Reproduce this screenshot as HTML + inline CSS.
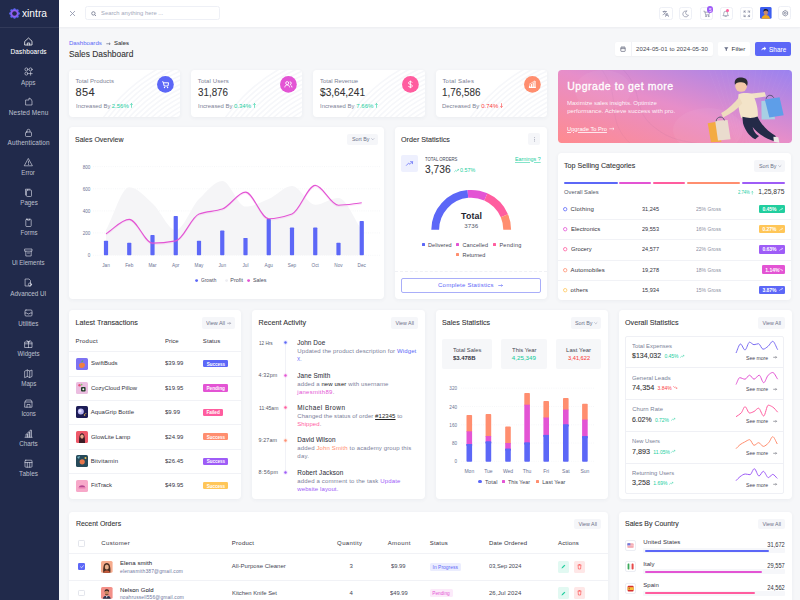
<!DOCTYPE html>
<html><head><meta charset="utf-8"><title>Sales Dashboard</title>
<style>
html,body{margin:0;padding:0;}
body{width:800px;height:600px;overflow:hidden;position:relative;background:#f6f7f9;font-family:"Liberation Sans",sans-serif;}
.t{position:absolute;white-space:nowrap;line-height:1;}
svg{overflow:visible;}
.card{position:absolute;background:#fff;border-radius:3.7px;box-shadow:0 1px 4px rgba(40,50,90,0.055);}
</style></head><body>
<div style="position:absolute;left:0.00px;top:0.00px;width:58.50px;height:600.00px;background:#212a4b;border-radius:0px;"></div>
<div style="position:absolute;left:0.00px;top:27.00px;width:58.50px;height:0.60px;background:rgba(255,255,255,0.08);border-radius:0px;"></div>
<svg style="position:absolute;left:9.00px;top:7.70px;" width="11" height="11" viewBox="0 0 11 11"><circle cx="9.60" cy="5.50" r="1.25" fill="#5a66f4"/><circle cx="8.40" cy="8.40" r="1.25" fill="#5a66f4"/><circle cx="5.50" cy="9.60" r="1.25" fill="#5a66f4"/><circle cx="2.60" cy="8.40" r="1.25" fill="#5a66f4"/><circle cx="1.40" cy="5.50" r="1.25" fill="#5a66f4"/><circle cx="2.60" cy="2.60" r="1.25" fill="#5a66f4"/><circle cx="5.50" cy="1.40" r="1.25" fill="#5a66f4"/><circle cx="8.40" cy="2.60" r="1.25" fill="#5a66f4"/><circle cx="5.5" cy="5.5" r="4.3" fill="#6a62f2"/><circle cx="5.5" cy="5.5" r="3.4" fill="#9b5cf0"/><circle cx="5.5" cy="5.5" r="2.3" fill="#212a4b"/></svg>
<div class="t" style="left:22.00px;top:7.55px;font-size:11.2px;color:#ffffff;transform:scaleX(0.9128);transform-origin:left center;">xintra</div>
<svg style="position:absolute;left:24.00px;top:37.10px;" width="9" height="9" viewBox="0 0 9 9"><g fill="none" stroke="#ffffff" stroke-width="0.75" stroke-linejoin="round" stroke-linecap="round"><path d="M1 4.2 L4.5 1 L8 4.2 V8 H1 Z" /><path d="M3.3 8 V6 H5.7 V8"/></g></svg>
<div class="t" style="left:10.60px;top:48.55px;font-size:6.4px;color:#ffffff;letter-spacing:0.166px;-webkit-text-stroke:0.06px currentColor;">Dashboards</div>
<svg style="position:absolute;left:24.00px;top:67.25px;" width="9" height="9" viewBox="0 0 9 9"><g fill="none" stroke="rgba(232,235,245,0.78)" stroke-width="0.75" stroke-linejoin="round" stroke-linecap="round"><circle cx="2.4" cy="2.4" r="1.5"/><circle cx="6.6" cy="2.4" r="1.5"/><circle cx="2.4" cy="6.6" r="1.5"/><path d="M6.6 5 V8.2 M5 6.6 H8.2"/></g></svg>
<div class="t" style="left:21.31px;top:79.55px;font-size:6.4px;color:rgba(232,235,245,0.78);transform:scaleX(0.9940);transform-origin:center center;">Apps</div>
<svg style="position:absolute;left:24.00px;top:97.40px;" width="9" height="9" viewBox="0 0 9 9"><g fill="none" stroke="rgba(232,235,245,0.78)" stroke-width="0.75" stroke-linejoin="round" stroke-linecap="round"><path d="M2 3 H5 V1 A4 4 0 0 1 8 4 V8 H2 Z"/></g></svg>
<div class="t" style="left:8.85px;top:109.55px;font-size:6.4px;color:rgba(232,235,245,0.78);letter-spacing:0.143px;">Nested Menu</div>
<svg style="position:absolute;left:24.00px;top:127.55px;" width="9" height="9" viewBox="0 0 9 9"><g fill="none" stroke="rgba(232,235,245,0.78)" stroke-width="0.75" stroke-linejoin="round" stroke-linecap="round"><rect x="1.5" y="4" width="6" height="4.5" rx="1"/><path d="M3 4 V2.8 A1.5 1.5 0 0 1 6 2.8 V4"/></g></svg>
<div class="t" style="left:7.60px;top:139.55px;font-size:6.4px;color:rgba(232,235,245,0.78);letter-spacing:0.111px;">Authentication</div>
<svg style="position:absolute;left:24.00px;top:157.70px;" width="9" height="9" viewBox="0 0 9 9"><g fill="none" stroke="rgba(232,235,245,0.78)" stroke-width="0.75" stroke-linejoin="round" stroke-linecap="round"><path d="M4.5 0.8 L8.4 7.8 H0.6 Z"/><path d="M4.5 3.2 V5.2 M4.5 6.3 V6.5"/></g></svg>
<div class="t" style="left:21.49px;top:169.55px;font-size:6.4px;color:rgba(232,235,245,0.78);transform:scaleX(0.9492);transform-origin:center center;">Error</div>
<svg style="position:absolute;left:24.00px;top:187.85px;" width="9" height="9" viewBox="0 0 9 9"><g fill="none" stroke="rgba(232,235,245,0.78)" stroke-width="0.75" stroke-linejoin="round" stroke-linecap="round"><rect x="2.5" y="2" width="5" height="6.5" rx="0.8"/><path d="M1.5 7 V1.2 H6"/></g></svg>
<div class="t" style="left:19.53px;top:199.55px;font-size:6.4px;color:rgba(232,235,245,0.78);transform:scaleX(0.9643);transform-origin:center center;">Pages</div>
<svg style="position:absolute;left:24.00px;top:218.00px;" width="9" height="9" viewBox="0 0 9 9"><g fill="none" stroke="rgba(232,235,245,0.78)" stroke-width="0.75" stroke-linejoin="round" stroke-linecap="round"><rect x="1.8" y="1.2" width="5.4" height="7.3" rx="0.8"/><path d="M3.5 1.2 V2.2 H5.5 V1.2"/></g></svg>
<div class="t" style="left:19.53px;top:229.55px;font-size:6.4px;color:rgba(232,235,245,0.78);transform:scaleX(0.9376);transform-origin:center center;">Forms</div>
<svg style="position:absolute;left:24.00px;top:248.15px;" width="9" height="9" viewBox="0 0 9 9"><g fill="none" stroke="rgba(232,235,245,0.78)" stroke-width="0.75" stroke-linejoin="round" stroke-linecap="round"><rect x="1" y="1" width="7" height="2.2"/><path d="M1.8 3.2 V8 H7.2 V3.2 M3.5 5 H5.5"/></g></svg>
<div class="t" style="left:11.35px;top:259.55px;font-size:6.4px;color:rgba(232,235,245,0.78);transform:scaleX(0.9420);transform-origin:center center;">Ui Elements</div>
<svg style="position:absolute;left:24.00px;top:278.30px;" width="9" height="9" viewBox="0 0 9 9"><g fill="none" stroke="rgba(232,235,245,0.78)" stroke-width="0.75" stroke-linejoin="round" stroke-linecap="round"><path d="M1.5 1 H5 L6.5 2.5 V8 H1.5 Z"/><circle cx="6" cy="6.5" r="1.6"/></g></svg>
<div class="t" style="left:10.28px;top:290.55px;font-size:6.4px;color:rgba(232,235,245,0.78);transform:scaleX(0.9824);transform-origin:center center;">Advanced UI</div>
<svg style="position:absolute;left:24.00px;top:308.45px;" width="9" height="9" viewBox="0 0 9 9"><g fill="none" stroke="rgba(232,235,245,0.78)" stroke-width="0.75" stroke-linejoin="round" stroke-linecap="round"><rect x="1" y="2" width="7" height="6" rx="1"/><path d="M1 5 H3 L4 6 H5 L6 5 H8"/></g></svg>
<div class="t" style="left:18.29px;top:320.55px;font-size:6.4px;color:rgba(232,235,245,0.78);transform:scaleX(0.9697);transform-origin:center center;">Utilities</div>
<svg style="position:absolute;left:24.00px;top:338.60px;" width="9" height="9" viewBox="0 0 9 9"><g fill="none" stroke="rgba(232,235,245,0.78)" stroke-width="0.75" stroke-linejoin="round" stroke-linecap="round"><rect x="1" y="3" width="7" height="5.5"/><path d="M1 4.8 H8 M4.5 3 V8.5 M4.5 3 C3 0.5 1.5 1.5 4.5 3 C7.5 1.5 6 0.5 4.5 3"/></g></svg>
<div class="t" style="left:17.04px;top:350.55px;font-size:6.4px;color:rgba(232,235,245,0.78);transform:scaleX(0.9516);transform-origin:center center;">Widgets</div>
<svg style="position:absolute;left:24.00px;top:368.75px;" width="9" height="9" viewBox="0 0 9 9"><g fill="none" stroke="rgba(232,235,245,0.78)" stroke-width="0.75" stroke-linejoin="round" stroke-linecap="round"><path d="M1 2 L3.3 1 L5.7 2 L8 1 V7.5 L5.7 8.5 L3.3 7.5 L1 8.5 Z M3.3 1 V7.5 M5.7 2 V8.5"/></g></svg>
<div class="t" style="left:20.77px;top:380.55px;font-size:6.4px;color:rgba(232,235,245,0.78);transform:scaleX(0.9585);transform-origin:center center;">Maps</div>
<svg style="position:absolute;left:24.00px;top:398.90px;" width="9" height="9" viewBox="0 0 9 9"><g fill="none" stroke="rgba(232,235,245,0.78)" stroke-width="0.75" stroke-linejoin="round" stroke-linecap="round"><path d="M1 3 L2 1 H7 L8 3 V8.2 H1 Z M1 3 H8 M3 8.2 V5.5 H6 V8.2"/></g></svg>
<div class="t" style="left:20.95px;top:410.55px;font-size:6.4px;color:rgba(232,235,245,0.78);transform:scaleX(0.9479);transform-origin:center center;">Icons</div>
<svg style="position:absolute;left:24.00px;top:429.05px;" width="9" height="9" viewBox="0 0 9 9"><g fill="none" stroke="rgba(232,235,245,0.78)" stroke-width="0.75" stroke-linejoin="round" stroke-linecap="round"><path d="M1 8.3 H8.2 M2 8 V5 H3.5 V8 M4 8 V3 H5.5 V8 M6 8 V1.2 H7.5 V8"/></g></svg>
<div class="t" style="left:19.17px;top:440.55px;font-size:6.4px;color:rgba(232,235,245,0.78);transform:scaleX(0.9814);transform-origin:center center;">Charts</div>
<svg style="position:absolute;left:24.00px;top:459.20px;" width="9" height="9" viewBox="0 0 9 9"><g fill="none" stroke="rgba(232,235,245,0.78)" stroke-width="0.75" stroke-linejoin="round" stroke-linecap="round"><rect x="1" y="1.2" width="7" height="7" rx="0.8"/><path d="M1 3.5 H8 M3.3 3.5 V8.2 M5.7 3.5 V8.2"/></g></svg>
<div class="t" style="left:19.10px;top:470.55px;font-size:6.4px;color:rgba(232,235,245,0.78);letter-spacing:0.100px;">Tables</div>
<div style="position:absolute;left:58.50px;top:0.00px;width:741.50px;height:27.00px;background:#ffffff;border-radius:0px;box-shadow:0 1px 2px rgba(30,40,80,0.05);"></div>
<svg style="position:absolute;left:68.50px;top:9.50px;" width="7" height="7" viewBox="0 0 7 7"><path d="M1 1 L6 6 M6 1 L1 6" stroke="#8a90a8" stroke-width="0.8" fill="none"/></svg>
<div style="position:absolute;left:85.30px;top:6.00px;width:134.40px;height:14.20px;background:#fff;border-radius:2.5px;border:0.6px solid #eef0f6;box-sizing:border-box;"></div>
<svg style="position:absolute;left:90.50px;top:10.50px;" width="5.5" height="5.5" viewBox="0 0 5.5 5.5"><circle cx="2.4" cy="2.4" r="1.7" fill="none" stroke="#6b7189" stroke-width="0.8"/><path d="M3.7 3.7 L5 5" stroke="#6b7189" stroke-width="0.8"/></svg>
<div class="t" style="left:101.00px;top:10.55px;font-size:5.9px;color:#a4a9bb;transform:scaleX(0.9945);transform-origin:left center;">Search anything here ...</div>
<div style="position:absolute;left:659.30px;top:6.50px;width:13.30px;height:13.30px;background:#fff;border-radius:2.5px;border:0.6px solid #eef0f6;box-sizing:border-box;"></div>
<svg style="position:absolute;left:662.20px;top:9.50px;" width="7.5" height="7.5" viewBox="0 0 7.5 7.5"><g fill="none" stroke="#757b94" stroke-width="0.6" stroke-linecap="round" stroke-linejoin="round"><path d="M1 1.5 H4.5 M2.7 1 V1.5 M1.5 1.5 C2 3.5 3 4.2 4.5 4.8 M4 1.5 C3.6 3 2.6 4.2 1 4.8 M3.5 6.5 L5 3 L6.5 6.5 M4 5.4 H6" /></g></svg>
<div style="position:absolute;left:679.20px;top:6.50px;width:13.30px;height:13.30px;background:#fff;border-radius:2.5px;border:0.6px solid #eef0f6;box-sizing:border-box;"></div>
<svg style="position:absolute;left:682.10px;top:9.50px;" width="7.5" height="7.5" viewBox="0 0 7.5 7.5"><g fill="none" stroke="#757b94" stroke-width="0.6" stroke-linecap="round" stroke-linejoin="round"><path d="M4.5 1 A3 3 0 1 0 6.5 5.2 A2.4 2.4 0 0 1 4.5 1 Z"/></g></svg>
<div style="position:absolute;left:699.60px;top:6.50px;width:13.30px;height:13.30px;background:#fff;border-radius:2.5px;border:0.6px solid #eef0f6;box-sizing:border-box;"></div>
<svg style="position:absolute;left:702.50px;top:9.50px;" width="7.5" height="7.5" viewBox="0 0 7.5 7.5"><g fill="none" stroke="#757b94" stroke-width="0.6" stroke-linecap="round" stroke-linejoin="round"><path d="M0.8 1.2 H1.8 L2.6 4.8 H6 L6.6 2.2 H2" /><circle cx="2.9" cy="6.1" r="0.5"/><circle cx="5.6" cy="6.1" r="0.5"/></g></svg>
<div style="position:absolute;left:719.50px;top:6.50px;width:13.30px;height:13.30px;background:#fff;border-radius:2.5px;border:0.6px solid #eef0f6;box-sizing:border-box;"></div>
<svg style="position:absolute;left:722.40px;top:9.50px;" width="7.5" height="7.5" viewBox="0 0 7.5 7.5"><g fill="none" stroke="#757b94" stroke-width="0.6" stroke-linecap="round" stroke-linejoin="round"><path d="M1.2 5.4 C1.8 4.8 1.8 4 1.8 3.2 A1.9 1.9 0 0 1 5.6 3.2 C5.6 4 5.6 4.8 6.2 5.4 Z M3 6.4 H4.4"/></g></svg>
<div style="position:absolute;left:739.70px;top:6.50px;width:13.30px;height:13.30px;background:#fff;border-radius:2.5px;border:0.6px solid #eef0f6;box-sizing:border-box;"></div>
<svg style="position:absolute;left:742.60px;top:9.50px;" width="7.5" height="7.5" viewBox="0 0 7.5 7.5"><g fill="none" stroke="#757b94" stroke-width="0.6" stroke-linecap="round" stroke-linejoin="round"><path d="M1 2.6 V1 H2.6 M5 1 H6.6 V2.6 M6.6 5 V6.6 H5 M2.6 6.6 H1 V5 M1 1 L2.4 2.4 M6.6 1 L5.2 2.4 M6.6 6.6 L5.2 5.2 M1 6.6 L2.4 5.2"/></g></svg>
<div style="position:absolute;left:706.90px;top:6.10px;width:6.60px;height:6.60px;background:#9e5cf7;border-radius:3.3px;"></div>
<div class="t" style="left:708.92px;top:8.55px;font-size:4.6px;color:#fff;">5</div>
<div style="position:absolute;left:726.30px;top:8.60px;width:3.00px;height:3.00px;background:#ff5d9f;border-radius:2px;"></div>
<svg style="position:absolute;left:759.70px;top:7.30px;" width="11.6" height="11.7" viewBox="0 0 11.6 11.7"><rect width="11.6" height="11.7" rx="1.5" fill="#3d5ef0"/><path d="M1.5 11.7 C2 8.8 4 8 5.8 8 C7.6 8 9.6 8.8 10.1 11.7 Z" fill="#f0a81c"/><ellipse cx="5.8" cy="5.6" rx="2.2" ry="2.6" fill="#c98a6a"/><path d="M3.4 5 C3.2 2.5 4.5 2 5.9 2 C7.5 2 8.6 2.8 8.3 5 C7.6 3.6 6.2 3.6 5.4 3.4 C4.6 3.6 3.9 4 3.4 5 Z" fill="#1b1b22"/></svg>
<div style="position:absolute;left:778.30px;top:6.30px;width:13.00px;height:13.70px;background:#fff;border-radius:2.5px;border:0.6px solid #eef0f6;box-sizing:border-box;"></div>
<svg style="position:absolute;left:781.60px;top:9.90px;" width="6.5" height="6.5" viewBox="0 0 6.5 6.5"><g fill="none" stroke="#6b7189" stroke-width="0.7"><path d="M3.25 0.5 L5.6 1.85 V4.65 L3.25 6 L0.9 4.65 V1.85 Z"/><circle cx="3.25" cy="3.25" r="1"/></g></svg>
<div class="t" style="left:68.90px;top:39.55px;font-size:6.1px;color:#5c67f7;letter-spacing:0.012px;">Dashboards</div>
<svg style="position:absolute;left:105.50px;top:41.50px;" width="5" height="3.5" viewBox="0 0 5 3.5"><path d="M0.3 1.75 H4.2 M3 0.6 L4.2 1.75 L3 2.9" stroke="#555a70" stroke-width="0.6" fill="none"/></svg>
<div class="t" style="left:113.80px;top:39.55px;font-size:6.1px;color:#333335;transform:scaleX(0.9830);transform-origin:left center;-webkit-text-stroke:0.06px currentColor;">Sales</div>
<div class="t" style="left:68.90px;top:49.55px;font-size:9.0px;color:#333335;transform:scaleX(0.9313);transform-origin:left center;-webkit-text-stroke:0.09px currentColor;">Sales Dashboard</div>
<div style="position:absolute;left:614.80px;top:42.10px;width:98.50px;height:13.80px;background:#fff;border-radius:2px;box-shadow:0 0.5px 1.5px rgba(0,0,0,0.03);"></div>
<div style="position:absolute;left:630.60px;top:42.10px;width:0.30px;height:13.80px;background:#f1f2f6;border-radius:0px;"></div>
<svg style="position:absolute;left:619.80px;top:45.80px;" width="6" height="6" viewBox="0 0 6 6"><g fill="none" stroke="#555a70" stroke-width="0.65"><rect x="0.8" y="1.2" width="4.4" height="4.2" rx="0.6"/><path d="M0.8 2.6 H5.2 M2 0.5 V1.5 M4 0.5 V1.5"/></g></svg>
<div class="t" style="left:636.10px;top:45.55px;font-size:6.0px;color:#444650;letter-spacing:0.090px;">2024-05-01 to 2024-05-30</div>
<div style="position:absolute;left:718.00px;top:42.10px;width:32.10px;height:13.80px;background:#fff;border-radius:2px;"></div>
<svg style="position:absolute;left:723.80px;top:46.60px;" width="4.6" height="4.2" viewBox="0 0 4.6 4.2"><path d="M0.2 0.3 H4.4 L2.9 2.2 V3.9 L1.7 3.4 V2.2 Z" fill="#6b7189"/></svg>
<div class="t" style="left:731.60px;top:45.55px;font-size:6.2px;color:#333340;letter-spacing:0.004px;">Filter</div>
<div style="position:absolute;left:755.40px;top:42.10px;width:35.80px;height:14.30px;background:#5c67f7;border-radius:2px;"></div>
<svg style="position:absolute;left:761.20px;top:46.30px;" width="5.5" height="5" viewBox="0 0 5.5 5"><path d="M0.4 4.6 C0.6 2.6 1.8 1.8 3.3 1.8 V0.5 L5.2 2.5 L3.3 4.4 V3.2 C2.2 3.1 1.2 3.5 0.4 4.6 Z" fill="#fff"/></svg>
<div class="t" style="left:769.10px;top:46.55px;font-size:6.3px;color:#fff;letter-spacing:0.072px;-webkit-text-stroke:0.06px currentColor;">Share</div>
<div class="card" style="left:68.70px;top:70.00px;width:111.40px;height:46.70px;"></div>
<svg style="position:absolute;left:68.70px;top:70.00px;overflow:hidden;border-radius:3.7px;" width="111.4" height="46.7" viewBox="0 0 111.4 46.7"><g fill="none" stroke="#f6f7fa" stroke-width="1.6"><circle cx="175" cy="150" r="102" /><circle cx="175" cy="150" r="106" /><circle cx="175" cy="150" r="110" /><circle cx="175" cy="150" r="114" /><circle cx="175" cy="150" r="118" /><circle cx="175" cy="150" r="122" /><circle cx="175" cy="150" r="126" /><circle cx="175" cy="150" r="130" /><circle cx="175" cy="150" r="134" /><circle cx="175" cy="150" r="138" /><circle cx="175" cy="150" r="142" /><circle cx="175" cy="150" r="146" /><circle cx="175" cy="150" r="150" /><circle cx="175" cy="150" r="154" /><circle cx="175" cy="150" r="158" /><circle cx="175" cy="150" r="162" /><circle cx="175" cy="150" r="166" /><circle cx="175" cy="150" r="170" /><circle cx="175" cy="150" r="174" /></g></svg>
<div class="t" style="left:75.50px;top:77.55px;font-size:6.0px;color:#7d8296;letter-spacing:0.037px;">Total Products</div>
<div class="t" style="left:75.50px;top:86.55px;font-size:11.0px;color:#333335;letter-spacing:0.373px;-webkit-text-stroke:0.09px currentColor;">854</div>
<div class="t" style="left:75.50px;top:102.55px;font-size:6.0px;color:#7d8296;transform:scaleX(0.9829);transform-origin:left center;">Increased By</div>
<div class="t" style="left:111.72px;top:102.55px;font-size:6.0px;color:#21ce9e;">2.56%</div>
<svg style="position:absolute;left:130.33px;top:102.60px;" width="3" height="5" viewBox="0 0 3 5"><path d="M1.5 4.8 V0.6 M0.3 1.8 L1.5 0.5 L2.7 1.8" stroke="#21ce9e" stroke-width="0.6" fill="none"/></svg>
<svg style="position:absolute;left:157.30px;top:76.40px;" width="16.8" height="16.8" viewBox="0 0 16.8 16.8"><circle cx="8.4" cy="8.4" r="8.4" fill="#5c67f7"/><g transform="translate(8.4 8.4)"><path d="M-3.2 -2.6 H-2.2 L-1.2 1.6 H2.6 L3.2 -1.6 H-1.8" fill="none" stroke="#fff" stroke-width="1"/><circle cx="-0.9" cy="3.1" r="0.7" fill="#fff"/><circle cx="2.2" cy="3.1" r="0.7" fill="#fff"/></g></svg>
<div class="card" style="left:191.00px;top:70.00px;width:111.40px;height:46.70px;"></div>
<svg style="position:absolute;left:191.00px;top:70.00px;overflow:hidden;border-radius:3.7px;" width="111.4" height="46.7" viewBox="0 0 111.4 46.7"><g fill="none" stroke="#f6f7fa" stroke-width="1.6"><circle cx="175" cy="150" r="102" /><circle cx="175" cy="150" r="106" /><circle cx="175" cy="150" r="110" /><circle cx="175" cy="150" r="114" /><circle cx="175" cy="150" r="118" /><circle cx="175" cy="150" r="122" /><circle cx="175" cy="150" r="126" /><circle cx="175" cy="150" r="130" /><circle cx="175" cy="150" r="134" /><circle cx="175" cy="150" r="138" /><circle cx="175" cy="150" r="142" /><circle cx="175" cy="150" r="146" /><circle cx="175" cy="150" r="150" /><circle cx="175" cy="150" r="154" /><circle cx="175" cy="150" r="158" /><circle cx="175" cy="150" r="162" /><circle cx="175" cy="150" r="166" /><circle cx="175" cy="150" r="170" /><circle cx="175" cy="150" r="174" /></g></svg>
<div class="t" style="left:197.80px;top:77.55px;font-size:6.0px;color:#7d8296;letter-spacing:0.099px;">Total Users</div>
<div class="t" style="left:197.80px;top:86.55px;font-size:11.0px;color:#333335;transform:scaleX(0.8917);transform-origin:left center;-webkit-text-stroke:0.09px currentColor;">31,876</div>
<div class="t" style="left:197.80px;top:102.55px;font-size:6.0px;color:#7d8296;transform:scaleX(0.9829);transform-origin:left center;">Increased By</div>
<div class="t" style="left:234.02px;top:102.55px;font-size:6.0px;color:#21ce9e;">0.34%</div>
<svg style="position:absolute;left:252.63px;top:102.60px;" width="3" height="5" viewBox="0 0 3 5"><path d="M1.5 4.8 V0.6 M0.3 1.8 L1.5 0.5 L2.7 1.8" stroke="#21ce9e" stroke-width="0.6" fill="none"/></svg>
<svg style="position:absolute;left:279.60px;top:76.40px;" width="16.8" height="16.8" viewBox="0 0 16.8 16.8"><circle cx="8.4" cy="8.4" r="8.4" fill="#e354d4"/><g transform="translate(8.4 8.4)"><circle cx="-1.2" cy="-1.3" r="1.5" fill="none" stroke="#fff" stroke-width="0.9"/><path d="M-3.6 3 C-3.4 1 -2.4 0.6 -1.2 0.6 C0 0.6 1 1 1.2 3" fill="none" stroke="#fff" stroke-width="0.9"/><path d="M1.3 -2.6 A1.4 1.4 0 0 1 1.6 0.2 M2.2 0.8 C3 1.1 3.5 1.8 3.6 3" fill="none" stroke="#fff" stroke-width="0.9"/></g></svg>
<div class="card" style="left:313.30px;top:70.00px;width:111.40px;height:46.70px;"></div>
<svg style="position:absolute;left:313.30px;top:70.00px;overflow:hidden;border-radius:3.7px;" width="111.4" height="46.7" viewBox="0 0 111.4 46.7"><g fill="none" stroke="#f6f7fa" stroke-width="1.6"><circle cx="175" cy="150" r="102" /><circle cx="175" cy="150" r="106" /><circle cx="175" cy="150" r="110" /><circle cx="175" cy="150" r="114" /><circle cx="175" cy="150" r="118" /><circle cx="175" cy="150" r="122" /><circle cx="175" cy="150" r="126" /><circle cx="175" cy="150" r="130" /><circle cx="175" cy="150" r="134" /><circle cx="175" cy="150" r="138" /><circle cx="175" cy="150" r="142" /><circle cx="175" cy="150" r="146" /><circle cx="175" cy="150" r="150" /><circle cx="175" cy="150" r="154" /><circle cx="175" cy="150" r="158" /><circle cx="175" cy="150" r="162" /><circle cx="175" cy="150" r="166" /><circle cx="175" cy="150" r="170" /><circle cx="175" cy="150" r="174" /></g></svg>
<div class="t" style="left:320.10px;top:77.55px;font-size:6.0px;color:#7d8296;transform:scaleX(0.9907);transform-origin:left center;">Total Revenue</div>
<div class="t" style="left:320.10px;top:86.55px;font-size:11.0px;color:#333335;transform:scaleX(0.9196);transform-origin:left center;-webkit-text-stroke:0.09px currentColor;">$3,64,241</div>
<div class="t" style="left:320.10px;top:102.55px;font-size:6.0px;color:#7d8296;transform:scaleX(0.9829);transform-origin:left center;">Increased By</div>
<div class="t" style="left:356.32px;top:102.55px;font-size:6.0px;color:#21ce9e;">7.66%</div>
<svg style="position:absolute;left:374.93px;top:102.60px;" width="3" height="5" viewBox="0 0 3 5"><path d="M1.5 4.8 V0.6 M0.3 1.8 L1.5 0.5 L2.7 1.8" stroke="#21ce9e" stroke-width="0.6" fill="none"/></svg>
<svg style="position:absolute;left:401.90px;top:76.40px;" width="16.8" height="16.8" viewBox="0 0 16.8 16.8"><circle cx="8.4" cy="8.4" r="8.4" fill="#ff5d9f"/><g transform="translate(8.4 8.4)"><path d="M1.8 -1.8 C1.5 -2.6 0.8 -2.8 0 -2.8 C-1.2 -2.8 -1.9 -2.2 -1.9 -1.4 C-1.9 0.4 2 -0.3 2 1.5 C2 2.3 1.2 2.8 0 2.8 C-1 2.8 -1.7 2.4 -2 1.6 M0 -3.8 V3.8" fill="none" stroke="#fff" stroke-width="0.9"/></g></svg>
<div class="card" style="left:435.60px;top:70.00px;width:111.40px;height:46.70px;"></div>
<svg style="position:absolute;left:435.60px;top:70.00px;overflow:hidden;border-radius:3.7px;" width="111.4" height="46.7" viewBox="0 0 111.4 46.7"><g fill="none" stroke="#f6f7fa" stroke-width="1.6"><circle cx="175" cy="150" r="102" /><circle cx="175" cy="150" r="106" /><circle cx="175" cy="150" r="110" /><circle cx="175" cy="150" r="114" /><circle cx="175" cy="150" r="118" /><circle cx="175" cy="150" r="122" /><circle cx="175" cy="150" r="126" /><circle cx="175" cy="150" r="130" /><circle cx="175" cy="150" r="134" /><circle cx="175" cy="150" r="138" /><circle cx="175" cy="150" r="142" /><circle cx="175" cy="150" r="146" /><circle cx="175" cy="150" r="150" /><circle cx="175" cy="150" r="154" /><circle cx="175" cy="150" r="158" /><circle cx="175" cy="150" r="162" /><circle cx="175" cy="150" r="166" /><circle cx="175" cy="150" r="170" /><circle cx="175" cy="150" r="174" /></g></svg>
<div class="t" style="left:442.40px;top:77.55px;font-size:6.0px;color:#7d8296;letter-spacing:0.215px;">Total Sales</div>
<div class="t" style="left:442.40px;top:86.55px;font-size:11.0px;color:#333335;transform:scaleX(0.8991);transform-origin:left center;-webkit-text-stroke:0.09px currentColor;">1,76,586</div>
<div class="t" style="left:442.40px;top:102.55px;font-size:6.0px;color:#7d8296;transform:scaleX(0.9841);transform-origin:left center;">Decreased By</div>
<div class="t" style="left:481.28px;top:102.55px;font-size:6.0px;color:#fb4242;">0.74%</div>
<svg style="position:absolute;left:499.90px;top:102.80px;" width="3" height="5" viewBox="0 0 3 5"><path d="M1.5 0.2 V4.4 M0.3 3.2 L1.5 4.5 L2.7 3.2" stroke="#fb4242" stroke-width="0.6" fill="none"/></svg>
<svg style="position:absolute;left:524.20px;top:76.40px;" width="16.8" height="16.8" viewBox="0 0 16.8 16.8"><circle cx="8.4" cy="8.4" r="8.4" fill="#ff8e6f"/><g transform="translate(8.4 8.4)"><path d="M-3.5 3 H3.5 M-2.8 2.6 V1 M-1 2.6 V-0.5 M0.8 2.6 V-2 M2.6 2.6 V-3.3" fill="none" stroke="#fff" stroke-width="1.1"/><path d="M-3.3 0 L2.5 -3.6" stroke="#fff" stroke-width="0.6"/></g></svg>
<svg style="position:absolute;left:557.90px;top:70.00px;" width="234" height="73" viewBox="0 0 234 73"><defs><linearGradient id="bg1" x1="0" y1="1" x2="1" y2="0"><stop offset="0" stop-color="#ff8b8f"/><stop offset="0.5" stop-color="#e78ec9"/><stop offset="1" stop-color="#9a82f0"/></linearGradient><clipPath id="bcl"><rect width="234" height="73" rx="3.7"/></clipPath></defs><g clip-path="url(#bcl)"><rect width="234" height="73" fill="url(#bg1)"/><path d="M60 -5 C90 20 70 40 100 60 C120 75 140 70 160 80" fill="none" stroke="rgba(120,80,140,0.10)" stroke-width="0.7"/><path d="M40 -5 C70 30 40 50 80 80" fill="none" stroke="rgba(120,80,140,0.08)" stroke-width="0.7"/><ellipse cx="45" cy="20" rx="28" ry="20" fill="rgba(255,255,255,0.05)"/><ellipse cx="150" cy="60" rx="35" ry="22" fill="rgba(255,255,255,0.05)"/><line x1="180.0" y1="75" x2="150.0" y2="-2" stroke="rgba(255,255,255,0.07)" stroke-width="0.5"/><line x1="181.2" y1="75" x2="156.0" y2="-2" stroke="rgba(255,255,255,0.07)" stroke-width="0.5"/><line x1="182.4" y1="75" x2="162.0" y2="-2" stroke="rgba(255,255,255,0.07)" stroke-width="0.5"/><line x1="183.6" y1="75" x2="168.0" y2="-2" stroke="rgba(255,255,255,0.07)" stroke-width="0.5"/><line x1="184.8" y1="75" x2="174.0" y2="-2" stroke="rgba(255,255,255,0.07)" stroke-width="0.5"/><line x1="186.0" y1="75" x2="180.0" y2="-2" stroke="rgba(255,255,255,0.07)" stroke-width="0.5"/><line x1="187.2" y1="75" x2="186.0" y2="-2" stroke="rgba(255,255,255,0.07)" stroke-width="0.5"/><line x1="188.4" y1="75" x2="192.0" y2="-2" stroke="rgba(255,255,255,0.07)" stroke-width="0.5"/><line x1="189.6" y1="75" x2="198.0" y2="-2" stroke="rgba(255,255,255,0.07)" stroke-width="0.5"/><line x1="190.8" y1="75" x2="204.0" y2="-2" stroke="rgba(255,255,255,0.07)" stroke-width="0.5"/><line x1="192.0" y1="75" x2="210.0" y2="-2" stroke="rgba(255,255,255,0.07)" stroke-width="0.5"/><line x1="193.2" y1="75" x2="216.0" y2="-2" stroke="rgba(255,255,255,0.07)" stroke-width="0.5"/><line x1="194.4" y1="75" x2="222.0" y2="-2" stroke="rgba(255,255,255,0.07)" stroke-width="0.5"/><line x1="195.6" y1="75" x2="228.0" y2="-2" stroke="rgba(255,255,255,0.07)" stroke-width="0.5"/><line x1="196.8" y1="75" x2="234.0" y2="-2" stroke="rgba(255,255,255,0.07)" stroke-width="0.5"/><line x1="198.0" y1="75" x2="240.0" y2="-2" stroke="rgba(255,255,255,0.07)" stroke-width="0.5"/></g></svg>
<div class="t" style="left:567.20px;top:80.55px;font-size:10.5px;color:#fff;letter-spacing:0.539px;-webkit-text-stroke:0.3px #fff;">Upgrade to get more</div>
<div class="t" style="left:567.20px;top:99.55px;font-size:6.1px;color:rgba(255,255,255,0.92);transform:scaleX(0.9833);transform-origin:left center;">Maximize sales insights. Optimize</div>
<div class="t" style="left:567.20px;top:107.55px;font-size:6.1px;color:rgba(255,255,255,0.92);letter-spacing:0.014px;">performance. Achieve success with pro.</div>
<div class="t" style="left:567.20px;top:125.55px;font-size:6.1px;color:#fff;transform:scaleX(0.9387);transform-origin:left center;text-decoration:underline;text-underline-offset:1px;text-decoration-thickness:0.6px;text-decoration-color:rgba(255,255,255,0.8);">Upgrade To Pro</div>
<svg style="position:absolute;left:608.60px;top:127.30px;" width="6" height="3.5" viewBox="0 0 6 3.5"><path d="M0.3 1.75 H5 M3.8 0.6 L5 1.75 L3.8 2.9" stroke="#fff" stroke-width="0.6" fill="none"/></svg>
<svg style="position:absolute;left:700.00px;top:68.00px;" width="95" height="77" viewBox="0 0 740 600"><path d="M478 258 L560 250 L585 400 L480 402 Z" fill="#a8cfe4"/><path d="M505 245 L620 228 L652 368 L540 385 Z" fill="#5e9ee8"/><path d="M515 240 C525 205 560 205 575 232" fill="none" stroke="#4a4e6a" stroke-width="7"/><path d="M345 205 C400 200 450 190 505 188 L515 222 C455 228 405 240 355 250 Z" fill="#f1e1c6"/><path d="M300 205 C330 190 380 192 410 205 C440 260 455 330 450 385 C400 398 350 398 320 388 C300 330 290 270 300 205 Z" fill="#f3e4c9"/><path d="M305 225 C270 270 220 320 165 350 L180 385 C240 360 290 320 330 275 Z" fill="#eedcbe"/><path d="M330 380 C370 392 420 392 448 378 C470 430 520 490 590 530 L578 570 C500 548 440 500 410 460 C420 500 440 520 460 530 L430 555 C380 530 350 480 335 430 Z" fill="#242a48"/><path d="M572 535 L610 540 L618 582 L575 575 Z" fill="#eceae6"/><circle cx="320" cy="140" r="46" fill="#f2c7a8"/><path d="M272 130 C262 80 300 70 335 75 C370 80 378 110 366 140 C355 115 335 108 310 112 C290 114 280 122 272 130 Z" fill="#2b2b30"/><path d="M60 430 L130 418 L168 575 L85 578 Z" fill="#f3ab42"/><path d="M118 412 L215 405 L238 555 L140 565 Z" fill="#eadcce"/><path d="M125 415 C130 375 180 370 190 408" fill="none" stroke="#4a4e6a" stroke-width="7"/></svg>
<div class="card" style="left:68.70px;top:126.80px;width:315.30px;height:172.60px;"></div>
<div class="t" style="left:75.40px;top:135.55px;font-size:7.2px;color:#333335;transform:scaleX(0.9717);transform-origin:left center;-webkit-text-stroke:0.09px currentColor;">Sales Overview</div>
<div style="position:absolute;left:346.90px;top:133.70px;width:30.70px;height:11.30px;background:#f5f6f9;border-radius:2px;"></div>
<div class="t" style="left:351.50px;top:136.55px;font-size:5.6px;color:#6c7088;transform:scaleX(0.9531);transform-origin:left center;">Sort By</div>
<svg style="position:absolute;left:370.80px;top:138.40px;" width="3.6" height="2.2" viewBox="0 0 3.6 2.2"><path d="M0.3 0.3 L1.8 1.8 L3.3 0.3" fill="none" stroke="#8a8fa5" stroke-width="0.5"/></svg>
<div class="t" style="left:82.73px;top:165.55px;font-size:4.6px;color:#6b7394;">800</div>
<div class="t" style="left:82.73px;top:187.55px;font-size:4.6px;color:#6b7394;">600</div>
<div class="t" style="left:82.73px;top:209.55px;font-size:4.6px;color:#6b7394;">400</div>
<div class="t" style="left:82.73px;top:231.55px;font-size:4.6px;color:#6b7394;">200</div>
<div class="t" style="left:87.84px;top:253.55px;font-size:4.6px;color:#6b7394;">0</div>
<svg style="position:absolute;left:0.00px;top:0.00px;pointer-events:none;" width="800" height="600" viewBox="0 0 800 600"><line x1="93" y1="166.6" x2="380" y2="166.6" stroke="#eceef3" stroke-width="0.5" stroke-dasharray="1 1.2"/><line x1="93" y1="188.75" x2="380" y2="188.75" stroke="#eceef3" stroke-width="0.5" stroke-dasharray="1 1.2"/><line x1="93" y1="210.9" x2="380" y2="210.9" stroke="#eceef3" stroke-width="0.5" stroke-dasharray="1 1.2"/><line x1="93" y1="232.9" x2="380" y2="232.9" stroke="#eceef3" stroke-width="0.5" stroke-dasharray="1 1.2"/><line x1="93" y1="255.3" x2="380" y2="255.3" stroke="#eceef3" stroke-width="0.5" stroke-dasharray="1 1.2"/><path d="M106.00 230.00 C113.75 215.77 121.50 187.30 129.25 187.30 C137.00 187.30 144.75 196.71 152.50 203.40 C160.25 210.09 168.00 230.00 175.75 230.00 C183.50 230.00 191.25 206.62 199.00 199.00 C206.75 191.38 214.50 180.90 222.25 180.90 C230.00 180.90 237.75 206.60 245.50 206.60 C253.25 206.60 261.00 202.20 268.75 199.00 C276.50 195.80 284.25 186.00 292.00 186.00 C299.75 186.00 307.50 204.70 315.25 204.70 C323.00 204.70 330.75 198.00 338.50 198.00 C346.25 198.00 354.00 219.33 361.75 230.00 L361.75 255.3 L106.00 255.3 Z" fill="#f5f5f7"/><rect x="103.90" y="240.70" width="4.2" height="14.60" rx="0.7" fill="#5c67f7"/><rect x="127.15" y="242.75" width="4.2" height="12.55" rx="0.7" fill="#5c67f7"/><rect x="150.40" y="235.10" width="4.2" height="20.20" rx="0.7" fill="#5c67f7"/><rect x="173.65" y="216.00" width="4.2" height="39.30" rx="0.7" fill="#5c67f7"/><rect x="196.90" y="240.70" width="4.2" height="14.60" rx="0.7" fill="#5c67f7"/><rect x="220.15" y="230.60" width="4.2" height="24.70" rx="0.7" fill="#5c67f7"/><rect x="243.40" y="237.90" width="4.2" height="17.40" rx="0.7" fill="#5c67f7"/><rect x="266.65" y="219.10" width="4.2" height="36.20" rx="0.7" fill="#5c67f7"/><rect x="289.90" y="227.60" width="4.2" height="27.70" rx="0.7" fill="#5c67f7"/><rect x="313.15" y="227.60" width="4.2" height="27.70" rx="0.7" fill="#5c67f7"/><rect x="336.40" y="242.75" width="4.2" height="12.55" rx="0.7" fill="#5c67f7"/><rect x="359.65" y="221.00" width="4.2" height="34.30" rx="0.7" fill="#5c67f7"/><path d="M106.00 233.75 C113.75 228.93 121.50 219.30 129.25 219.30 C137.00 219.30 144.75 243.10 152.50 243.10 C160.25 243.10 168.00 242.26 175.75 240.90 C183.50 239.54 191.25 216.81 199.00 214.00 C206.75 211.19 214.50 211.57 222.25 209.00 C230.00 206.43 237.75 192.10 245.50 192.10 C253.25 192.10 261.00 218.75 268.75 218.75 C276.50 218.75 284.25 216.72 292.00 214.00 C299.75 211.28 307.50 185.40 315.25 185.40 C323.00 185.40 330.75 205.25 338.50 205.25 C346.25 205.25 354.00 203.62 361.75 202.80" transform="translate(0 1.2)" fill="none" stroke="rgba(227,84,212,0.12)" stroke-width="1.2"/><path d="M106.00 233.75 C113.75 228.93 121.50 219.30 129.25 219.30 C137.00 219.30 144.75 243.10 152.50 243.10 C160.25 243.10 168.00 242.26 175.75 240.90 C183.50 239.54 191.25 216.81 199.00 214.00 C206.75 211.19 214.50 211.57 222.25 209.00 C230.00 206.43 237.75 192.10 245.50 192.10 C253.25 192.10 261.00 218.75 268.75 218.75 C276.50 218.75 284.25 216.72 292.00 214.00 C299.75 211.28 307.50 185.40 315.25 185.40 C323.00 185.40 330.75 205.25 338.50 205.25 C346.25 205.25 354.00 203.62 361.75 202.80" fill="none" stroke="#e354d4" stroke-width="1.15"/></svg>
<div class="t" style="left:102.21px;top:263.55px;font-size:4.7px;color:#6b7394;">Jan</div>
<div class="t" style="left:125.20px;top:263.55px;font-size:4.7px;color:#6b7394;">Feb</div>
<div class="t" style="left:148.45px;top:263.55px;font-size:4.7px;color:#6b7394;">Mar</div>
<div class="t" style="left:172.09px;top:263.55px;font-size:4.7px;color:#6b7394;">Apr</div>
<div class="t" style="left:194.56px;top:263.55px;font-size:4.7px;color:#6b7394;">May</div>
<div class="t" style="left:218.46px;top:263.55px;font-size:4.7px;color:#6b7394;">Jun</div>
<div class="t" style="left:242.50px;top:263.55px;font-size:4.7px;color:#6b7394;">Jul</div>
<div class="t" style="left:264.57px;top:263.55px;font-size:4.7px;color:#6b7394;">Agu</div>
<div class="t" style="left:287.82px;top:263.55px;font-size:4.7px;color:#6b7394;">Sep</div>
<div class="t" style="left:311.59px;top:263.55px;font-size:4.7px;color:#6b7394;">Oct</div>
<div class="t" style="left:334.32px;top:263.55px;font-size:4.7px;color:#6b7394;">Nov</div>
<div class="t" style="left:357.57px;top:263.55px;font-size:4.7px;color:#6b7394;">Dec</div>
<svg style="position:absolute;left:194.60px;top:278.90px;" width="3.2" height="3.2" viewBox="0 0 3.2 3.2"><circle cx="1.6" cy="1.6" r="1.45" fill="#5c67f7"/></svg>
<div class="t" style="left:200.80px;top:277.55px;font-size:5.4px;color:#4a4d5e;transform:scaleX(0.8791);transform-origin:left center;">Growth</div>
<svg style="position:absolute;left:224.70px;top:278.90px;" width="3.2" height="3.2" viewBox="0 0 3.2 3.2"><circle cx="1.6" cy="1.6" r="1.45" fill="#eeeef2"/></svg>
<div class="t" style="left:230.30px;top:277.55px;font-size:5.4px;color:#4a4d5e;letter-spacing:0.039px;">Profit</div>
<svg style="position:absolute;left:246.70px;top:278.90px;" width="3.2" height="3.2" viewBox="0 0 3.2 3.2"><circle cx="1.6" cy="1.6" r="1.45" fill="#e354d4"/></svg>
<div class="t" style="left:252.80px;top:277.55px;font-size:5.4px;color:#4a4d5e;transform:scaleX(0.9994);transform-origin:left center;">Sales</div>
<div class="card" style="left:395.00px;top:126.80px;width:152.00px;height:172.60px;"></div>
<div class="t" style="left:401.10px;top:135.55px;font-size:7.2px;color:#333335;transform:scaleX(0.9957);transform-origin:left center;-webkit-text-stroke:0.09px currentColor;">Order Statistics</div>
<div style="position:absolute;left:528.00px;top:133.40px;width:12.30px;height:11.60px;background:#f5f6f9;border-radius:2px;"></div>
<svg style="position:absolute;left:533.60px;top:137.00px;" width="1.2" height="5" viewBox="0 0 1.2 5"><circle cx="0.6" cy="0.6" r="0.45" fill="#6b7189"/><circle cx="0.6" cy="2.3" r="0.45" fill="#6b7189"/><circle cx="0.6" cy="4" r="0.45" fill="#6b7189"/></svg>
<div style="position:absolute;left:401.10px;top:155.00px;width:16.70px;height:17.00px;background:#eef0fe;border-radius:2px;"></div>
<svg style="position:absolute;left:405.80px;top:160.60px;" width="7" height="5" viewBox="0 0 7 5"><path d="M0.4 4.4 L2.6 2.1 L4 3.3 L6.4 0.8 M4.4 0.7 H6.5 V2.7" fill="none" stroke="#5c67f7" stroke-width="0.7" stroke-linecap="round" stroke-linejoin="round"/></svg>
<div class="t" style="left:425.00px;top:157.55px;font-size:4.7px;color:#444654;transform:scaleX(0.9040);transform-origin:left center;">TOTAL ORDERS</div>
<div class="t" style="left:425.00px;top:163.55px;font-size:11.2px;color:#333335;transform:scaleX(0.9134);transform-origin:left center;-webkit-text-stroke:0.09px currentColor;">3,736</div>
<svg style="position:absolute;left:454.20px;top:168.60px;" width="5" height="3.2" viewBox="0 0 5 3.2"><path d="M0.3 2.9 L1.8 1.4 L2.7 2.2 L4.6 0.4 M3.5 0.4 H4.6 V1.4" fill="none" stroke="#21ce9e" stroke-width="0.55"/></svg>
<div class="t" style="left:460.20px;top:167.55px;font-size:5.4px;color:#21ce9e;transform:scaleX(0.9927);transform-origin:left center;">0.57%</div>
<div class="t" style="left:515.00px;top:156.55px;font-size:5.6px;color:#21ce9e;transform:scaleX(0.9599);transform-origin:left center;text-decoration:underline;text-underline-offset:0.8px;text-decoration-thickness:0.5px;text-decoration-color:rgba(33,206,158,0.55);">Earnings ?</div>
<svg style="position:absolute;left:0.00px;top:0.00px;pointer-events:none;" width="800" height="600" viewBox="0 0 800 600"><path d="M435.20 229.80 A36.0 36.0 0 0 1 467.87 193.95" fill="none" stroke="#5c67f7" stroke-width="7.8"/><path d="M467.87 193.95 A36.0 36.0 0 0 1 485.84 196.91" fill="none" stroke="#e354d4" stroke-width="7.8"/><path d="M485.84 196.91 A36.0 36.0 0 0 1 504.39 215.85" fill="none" stroke="#ff5d9f" stroke-width="7.8"/><path d="M504.39 215.85 A36.0 36.0 0 0 1 507.20 229.80" fill="none" stroke="#ff8e6f" stroke-width="7.8"/></svg>
<div class="t" style="left:461.00px;top:211.55px;font-size:8.8px;color:#222330;letter-spacing:0.158px;font-weight:700;">Total</div>
<div class="t" style="left:464.30px;top:222.55px;font-size:6.2px;color:#555868;letter-spacing:0.002px;">3736</div>
<div style="position:absolute;left:421.50px;top:243.10px;width:3.20px;height:3.20px;background:#5c67f7;border-radius:0.6px;"></div>
<div class="t" style="left:428.10px;top:242.55px;font-size:5.5px;color:#444654;letter-spacing:0.033px;">Delivered</div>
<div style="position:absolute;left:455.90px;top:243.10px;width:3.20px;height:3.20px;background:#e354d4;border-radius:0.6px;"></div>
<div class="t" style="left:462.50px;top:242.55px;font-size:5.5px;color:#444654;letter-spacing:0.142px;">Cancelled</div>
<div style="position:absolute;left:492.80px;top:243.10px;width:3.20px;height:3.20px;background:#ff5d9f;border-radius:0.6px;"></div>
<div class="t" style="left:499.40px;top:242.55px;font-size:5.5px;color:#444654;letter-spacing:0.303px;">Pending</div>
<div style="position:absolute;left:455.90px;top:253.20px;width:3.20px;height:3.20px;background:#ff8e6f;border-radius:0.6px;"></div>
<div class="t" style="left:462.50px;top:252.55px;font-size:5.5px;color:#444654;letter-spacing:0.011px;">Returned</div>
<div style="position:absolute;left:395.00px;top:271.40px;width:152.00px;height:0.50px;background:transparent;border-radius:0px;border-top:0.5px dashed #f0f1f5;box-sizing:border-box;"></div>
<div style="position:absolute;left:401.00px;top:278.40px;width:139.60px;height:14.60px;background:#fff;border-radius:2px;border:0.7px solid #a9aef9;box-sizing:border-box;"></div>
<div class="t" style="left:438.00px;top:281.55px;font-size:6.0px;color:#5c67f7;letter-spacing:0.236px;">Complete Statistics</div>
<svg style="position:absolute;left:497.60px;top:284.20px;" width="5" height="3" viewBox="0 0 5 3"><path d="M0.3 1.5 H4.5 M3.4 0.4 L4.5 1.5 L3.4 2.6" stroke="#5c67f7" stroke-width="0.6" fill="none"/></svg>
<div class="card" style="left:557.90px;top:153.20px;width:233.60px;height:146.40px;"></div>
<div class="t" style="left:564.00px;top:161.55px;font-size:7.2px;color:#333335;transform:scaleX(0.9925);transform-origin:left center;-webkit-text-stroke:0.09px currentColor;">Top Selling Categories</div>
<div style="position:absolute;left:754.00px;top:160.20px;width:30.80px;height:11.40px;background:#f5f6f9;border-radius:2px;"></div>
<div class="t" style="left:758.60px;top:163.55px;font-size:5.6px;color:#6c7088;transform:scaleX(0.9531);transform-origin:left center;">Sort By</div>
<svg style="position:absolute;left:778.00px;top:164.90px;" width="3.6" height="2.2" viewBox="0 0 3.6 2.2"><path d="M0.3 0.3 L1.8 1.8 L3.3 0.3" fill="none" stroke="#8a8fa5" stroke-width="0.5"/></svg>
<div style="position:absolute;left:564.00px;top:181.90px;width:53.50px;height:2.40px;background:#5c67f7;border-radius:1.2px;"></div>
<div style="position:absolute;left:619.00px;top:181.90px;width:32.00px;height:2.40px;background:#e354d4;border-radius:1.2px;"></div>
<div style="position:absolute;left:653.00px;top:181.90px;width:31.80px;height:2.40px;background:#ff5d9f;border-radius:1.2px;"></div>
<div style="position:absolute;left:686.90px;top:181.90px;width:53.40px;height:2.40px;background:#ff8e6f;border-radius:1.2px;"></div>
<div style="position:absolute;left:742.20px;top:181.90px;width:42.60px;height:2.40px;background:#9e5cf7;border-radius:1.2px;"></div>
<div class="t" style="left:564.00px;top:189.55px;font-size:5.8px;color:#555868;letter-spacing:0.017px;">Overall Sales</div>
<div class="t" style="left:738.00px;top:190.55px;font-size:4.6px;color:#21ce9e;transform:scaleX(0.9047);transform-origin:left center;">2.74%</div>
<svg style="position:absolute;left:751.20px;top:190.50px;" width="2.6" height="3.8" viewBox="0 0 2.6 3.8"><path d="M1.3 3.6 V0.4 M0.3 1.4 L1.3 0.3 L2.3 1.4" stroke="#21ce9e" stroke-width="0.45" fill="none"/></svg>
<div class="t" style="left:754.44px;top:187.55px;font-size:7.8px;color:#333335;transform:scaleX(0.8563);transform-origin:right center;">1,25,875</div>
<svg style="position:absolute;left:562.90px;top:207.20px;" width="4.4" height="4.4" viewBox="0 0 4.4 4.4"><circle cx="2.2" cy="2.2" r="1.7" fill="none" stroke="#5c67f7" stroke-width="0.8"/></svg>
<div class="t" style="left:570.60px;top:205.55px;font-size:6.0px;color:#333340;letter-spacing:0.169px;">Clothing</div>
<div class="t" style="left:642.00px;top:205.55px;font-size:6.0px;color:#333340;transform:scaleX(0.9263);transform-origin:left center;">31,245</div>
<div class="t" style="left:695.80px;top:206.55px;font-size:5.6px;color:#8c90a3;transform:scaleX(0.9026);transform-origin:left center;">25% Gross</div>
<div style="position:absolute;left:759.40px;top:205.10px;width:25.40px;height:8.30px;background:#21ce9e;border-radius:1.3px;"></div>
<div class="t" style="left:762.40px;top:206.55px;font-size:5.0px;color:#fff;font-weight:700;">0.45%</div>
<svg style="position:absolute;left:779.00px;top:207.60px;" width="3.6" height="3" viewBox="0 0 3.6 3"><path d="M0.2 2.8 L1.3 1.5 L2 2.1 L3.4 0.4 M2.4 0.3 H3.4 V1.3" fill="none" stroke="#fff" stroke-width="0.5"/></svg>
<div style="position:absolute;left:557.90px;top:219.30px;width:233.60px;height:0.50px;background:#f1f2f6;border-radius:0px;"></div>
<svg style="position:absolute;left:562.90px;top:227.30px;" width="4.4" height="4.4" viewBox="0 0 4.4 4.4"><circle cx="2.2" cy="2.2" r="1.7" fill="none" stroke="#e354d4" stroke-width="0.8"/></svg>
<div class="t" style="left:570.60px;top:225.55px;font-size:6.0px;color:#333340;transform:scaleX(0.9985);transform-origin:left center;">Electronics</div>
<div class="t" style="left:642.00px;top:225.55px;font-size:6.0px;color:#333340;transform:scaleX(0.9263);transform-origin:left center;">29,553</div>
<div class="t" style="left:695.80px;top:226.55px;font-size:5.6px;color:#8c90a3;transform:scaleX(0.9026);transform-origin:left center;">16% Gross</div>
<div style="position:absolute;left:759.40px;top:225.20px;width:25.40px;height:8.30px;background:#ffc658;border-radius:1.3px;"></div>
<div class="t" style="left:762.40px;top:226.55px;font-size:5.0px;color:#fff;font-weight:700;">0.27%</div>
<svg style="position:absolute;left:779.00px;top:227.70px;" width="3.6" height="3" viewBox="0 0 3.6 3"><path d="M0.2 2.8 L1.3 1.5 L2 2.1 L3.4 0.4 M2.4 0.3 H3.4 V1.3" fill="none" stroke="#fff" stroke-width="0.5"/></svg>
<div style="position:absolute;left:557.90px;top:239.40px;width:233.60px;height:0.50px;background:#f1f2f6;border-radius:0px;"></div>
<svg style="position:absolute;left:562.90px;top:247.40px;" width="4.4" height="4.4" viewBox="0 0 4.4 4.4"><circle cx="2.2" cy="2.2" r="1.7" fill="none" stroke="#ff5d9f" stroke-width="0.8"/></svg>
<div class="t" style="left:570.60px;top:245.55px;font-size:6.0px;color:#333340;transform:scaleX(0.9655);transform-origin:left center;">Grocery</div>
<div class="t" style="left:642.00px;top:245.55px;font-size:6.0px;color:#333340;transform:scaleX(0.9263);transform-origin:left center;">24,577</div>
<div class="t" style="left:695.80px;top:246.55px;font-size:5.6px;color:#8c90a3;transform:scaleX(0.9026);transform-origin:left center;">22% Gross</div>
<div style="position:absolute;left:759.40px;top:245.30px;width:25.40px;height:8.30px;background:#9e5cf7;border-radius:1.3px;"></div>
<div class="t" style="left:762.40px;top:246.55px;font-size:5.0px;color:#fff;font-weight:700;">0.63%</div>
<svg style="position:absolute;left:779.00px;top:247.80px;" width="3.6" height="3" viewBox="0 0 3.6 3"><path d="M0.2 2.8 L1.3 1.5 L2 2.1 L3.4 0.4 M2.4 0.3 H3.4 V1.3" fill="none" stroke="#fff" stroke-width="0.5"/></svg>
<div style="position:absolute;left:557.90px;top:259.50px;width:233.60px;height:0.50px;background:#f1f2f6;border-radius:0px;"></div>
<svg style="position:absolute;left:562.90px;top:267.50px;" width="4.4" height="4.4" viewBox="0 0 4.4 4.4"><circle cx="2.2" cy="2.2" r="1.7" fill="none" stroke="#ff8e6f" stroke-width="0.8"/></svg>
<div class="t" style="left:570.60px;top:266.55px;font-size:6.0px;color:#333340;letter-spacing:0.118px;">Automobiles</div>
<div class="t" style="left:642.00px;top:266.55px;font-size:6.0px;color:#333340;transform:scaleX(0.9263);transform-origin:left center;">19,278</div>
<div class="t" style="left:695.80px;top:267.55px;font-size:5.6px;color:#8c90a3;transform:scaleX(0.9026);transform-origin:left center;">18% Gross</div>
<div style="position:absolute;left:762.30px;top:265.40px;width:22.50px;height:8.30px;background:#e354d4;border-radius:1.3px;"></div>
<div class="t" style="left:765.30px;top:267.55px;font-size:5.0px;color:#fff;font-weight:700;">1.14%</div>
<svg style="position:absolute;left:779.00px;top:268.30px;" width="3.6" height="3" viewBox="0 0 3.6 3"><path d="M0.2 0.2 L1.3 1.5 L2 0.9 L3.4 2.6 M2.4 2.7 H3.4 V1.7" fill="none" stroke="#fff" stroke-width="0.5"/></svg>
<div style="position:absolute;left:557.90px;top:279.60px;width:233.60px;height:0.50px;background:#f1f2f6;border-radius:0px;"></div>
<svg style="position:absolute;left:562.90px;top:287.60px;" width="4.4" height="4.4" viewBox="0 0 4.4 4.4"><circle cx="2.2" cy="2.2" r="1.7" fill="none" stroke="#ffc658" stroke-width="0.8"/></svg>
<div class="t" style="left:570.60px;top:286.55px;font-size:6.0px;color:#333340;letter-spacing:0.165px;">others</div>
<div class="t" style="left:642.00px;top:286.55px;font-size:6.0px;color:#333340;transform:scaleX(0.9263);transform-origin:left center;">15,934</div>
<div class="t" style="left:695.80px;top:287.55px;font-size:5.6px;color:#8c90a3;transform:scaleX(0.9026);transform-origin:left center;">15% Gross</div>
<div style="position:absolute;left:759.40px;top:285.50px;width:25.40px;height:8.30px;background:#5c67f7;border-radius:1.3px;"></div>
<div class="t" style="left:762.40px;top:287.55px;font-size:5.0px;color:#fff;font-weight:700;">3.87%</div>
<svg style="position:absolute;left:779.00px;top:288.00px;" width="3.6" height="3" viewBox="0 0 3.6 3"><path d="M0.2 2.8 L1.3 1.5 L2 2.1 L3.4 0.4 M2.4 0.3 H3.4 V1.3" fill="none" stroke="#fff" stroke-width="0.5"/></svg>
<div class="card" style="left:68.70px;top:310.20px;width:172.40px;height:189.20px;"></div>
<div class="t" style="left:75.50px;top:318.55px;font-size:7.2px;color:#333335;letter-spacing:0.004px;-webkit-text-stroke:0.09px currentColor;">Latest Transactions</div>
<div style="position:absolute;left:201.50px;top:317.00px;width:33.70px;height:11.70px;background:#f5f6f9;border-radius:2px;"></div>
<div class="t" style="left:205.50px;top:320.55px;font-size:5.6px;color:#6c7088;transform:scaleX(0.9740);transform-origin:left center;">View All</div>
<svg style="position:absolute;left:227.30px;top:321.55px;" width="4" height="2.6" viewBox="0 0 4 2.6"><path d="M0.2 1.3 H3.6 M2.6 0.3 L3.6 1.3 L2.6 2.3" stroke="#6c7088" stroke-width="0.5" fill="none"/></svg>
<div class="t" style="left:75.50px;top:337.55px;font-size:6.0px;color:#333340;letter-spacing:0.254px;">Product</div>
<div class="t" style="left:165.00px;top:337.55px;font-size:6.0px;color:#333340;transform:scaleX(0.9876);transform-origin:left center;">Price</div>
<div class="t" style="left:202.80px;top:337.55px;font-size:6.0px;color:#333340;letter-spacing:0.098px;">Status</div>
<div style="position:absolute;left:68.70px;top:351.00px;width:172.40px;height:0.50px;background:#f1f2f6;border-radius:0px;"></div>
<svg style="position:absolute;left:75.50px;top:357.60px;" width="12" height="12" viewBox="0 0 12 12"><rect width="12" height="12" rx="1.6" fill="#7d72f2"/><path d="M3 6.5 C4 4.5 7.5 4.2 8.8 6 C9.6 7.6 8 10 5.5 10 C3.8 10 2.6 8.2 3 6.5 Z" fill="#f08040"/><path d="M5.5 4.6 C5 3 6 2 7.2 2.2 C7 3.4 6.6 4.2 5.5 4.6 Z" fill="#4caf6a"/></svg>
<div class="t" style="left:90.70px;top:359.55px;font-size:6.0px;color:#333340;transform:scaleX(0.9971);transform-origin:left center;">SwiftBuds</div>
<div class="t" style="left:165.00px;top:359.55px;font-size:6.0px;color:#333340;transform:scaleX(0.9972);transform-origin:left center;">$39.99</div>
<div style="position:absolute;left:203.30px;top:360.00px;width:24.40px;height:7.20px;background:#5c67f7;border-radius:1.3px;"></div>
<div class="t" style="left:205.56px;top:362.55px;font-size:4.9px;color:#fff;transform:scaleX(0.9252);transform-origin:center center;font-weight:700;">Success</div>
<div style="position:absolute;left:68.70px;top:375.60px;width:172.40px;height:0.50px;background:#f1f2f6;border-radius:0px;"></div>
<svg style="position:absolute;left:75.50px;top:382.00px;" width="12" height="12" viewBox="0 0 12 12"><rect width="12" height="12" rx="1.6" fill="#ebbde0"/><rect x="5" y="5" width="4.6" height="4.6" rx="1" fill="#23402a"/><circle cx="7.3" cy="7.3" r="1" fill="#f4f4f4"/><circle cx="3.5" cy="3.2" r="1.2" fill="#e8507a"/><circle cx="5.6" cy="2.6" r="0.9" fill="#7ac36a"/></svg>
<div class="t" style="left:90.70px;top:384.55px;font-size:6.0px;color:#333340;transform:scaleX(0.9853);transform-origin:left center;">CozyCloud Pillow</div>
<div class="t" style="left:165.00px;top:384.55px;font-size:6.0px;color:#333340;transform:scaleX(0.9972);transform-origin:left center;">$19.95</div>
<div style="position:absolute;left:203.30px;top:384.40px;width:24.40px;height:7.20px;background:#e354d4;border-radius:1.3px;"></div>
<div class="t" style="left:205.84px;top:386.55px;font-size:4.9px;color:#fff;transform:scaleX(0.9520);transform-origin:center center;font-weight:700;">Pending</div>
<div style="position:absolute;left:68.70px;top:400.00px;width:172.40px;height:0.50px;background:#f1f2f6;border-radius:0px;"></div>
<svg style="position:absolute;left:75.50px;top:406.40px;" width="12" height="12" viewBox="0 0 12 12"><rect width="12" height="12" rx="1.6" fill="#1d1c56"/><circle cx="4.8" cy="5.6" r="3" fill="#b8b4f2"/><circle cx="4.2" cy="5" r="1.4" fill="#e6e4ff"/><circle cx="8.6" cy="9" r="0.8" fill="#f6c445"/><circle cx="9.8" cy="7.4" r="0.5" fill="#f6c445"/></svg>
<div class="t" style="left:90.70px;top:408.55px;font-size:6.0px;color:#333340;letter-spacing:0.067px;">AquaGrip Bottle</div>
<div class="t" style="left:165.00px;top:408.55px;font-size:6.0px;color:#333340;transform:scaleX(0.9990);transform-origin:left center;">$9.99</div>
<div style="position:absolute;left:203.30px;top:408.80px;width:19.40px;height:7.20px;background:#ff5d9f;border-radius:1.3px;"></div>
<div class="t" style="left:205.92px;top:410.55px;font-size:4.9px;color:#fff;transform:scaleX(0.9464);transform-origin:center center;font-weight:700;">Failed</div>
<div style="position:absolute;left:68.70px;top:424.40px;width:172.40px;height:0.50px;background:#f1f2f6;border-radius:0px;"></div>
<svg style="position:absolute;left:75.50px;top:430.80px;" width="12" height="12" viewBox="0 0 12 12"><rect width="12" height="12" rx="1.6" fill="#ee5868"/><path d="M3 12 C3 6 3.5 2.2 6 2.2 C8.5 2.2 9 6 9 12 Z" fill="#3b1d26"/><ellipse cx="6" cy="5.6" rx="1.7" ry="2.1" fill="#e9a98a"/></svg>
<div class="t" style="left:90.70px;top:433.55px;font-size:6.0px;color:#333340;transform:scaleX(0.9820);transform-origin:left center;">GlowLite Lamp</div>
<div class="t" style="left:165.00px;top:433.55px;font-size:6.0px;color:#333340;transform:scaleX(0.9972);transform-origin:left center;">$24.99</div>
<div style="position:absolute;left:203.30px;top:433.20px;width:24.40px;height:7.20px;background:#ff8e6f;border-radius:1.3px;"></div>
<div class="t" style="left:205.56px;top:435.55px;font-size:4.9px;color:#fff;transform:scaleX(0.9252);transform-origin:center center;font-weight:700;">Success</div>
<div style="position:absolute;left:68.70px;top:448.80px;width:172.40px;height:0.50px;background:#f1f2f6;border-radius:0px;"></div>
<svg style="position:absolute;left:75.50px;top:455.20px;" width="12" height="12" viewBox="0 0 12 12"><rect width="12" height="12" rx="1.6" fill="#264a5a"/><circle cx="6.2" cy="6.8" r="2.6" fill="#e7744a"/><path d="M1 2 L4 1 L3 4 Z" fill="#6fb0c0"/><circle cx="9.5" cy="3" r="1" fill="#f0c050"/></svg>
<div class="t" style="left:90.70px;top:457.55px;font-size:6.0px;color:#333340;letter-spacing:0.144px;">Bitvitamin</div>
<div class="t" style="left:165.00px;top:457.55px;font-size:6.0px;color:#333340;transform:scaleX(0.9972);transform-origin:left center;">$26.45</div>
<div style="position:absolute;left:203.30px;top:457.60px;width:24.40px;height:7.20px;background:#9e5cf7;border-radius:1.3px;"></div>
<div class="t" style="left:205.56px;top:459.55px;font-size:4.9px;color:#fff;transform:scaleX(0.9252);transform-origin:center center;font-weight:700;">Success</div>
<div style="position:absolute;left:68.70px;top:473.20px;width:172.40px;height:0.50px;background:#f1f2f6;border-radius:0px;"></div>
<svg style="position:absolute;left:75.50px;top:479.60px;" width="12" height="12" viewBox="0 0 12 12"><rect width="12" height="12" rx="1.6" fill="#f7a8c9"/><path d="M2.8 7.4 C3 4.6 9 4.6 9.2 7.4 Z" fill="#b44690"/><rect x="2.4" y="7.2" width="7.2" height="1.2" rx="0.6" fill="#e77bb0"/></svg>
<div class="t" style="left:90.70px;top:481.55px;font-size:6.0px;color:#333340;transform:scaleX(0.9794);transform-origin:left center;">FitTrack</div>
<div class="t" style="left:165.00px;top:481.55px;font-size:6.0px;color:#333340;transform:scaleX(0.9972);transform-origin:left center;">$49.95</div>
<div style="position:absolute;left:203.30px;top:482.00px;width:24.40px;height:7.20px;background:#ffc658;border-radius:1.3px;"></div>
<div class="t" style="left:205.56px;top:484.55px;font-size:4.9px;color:#fff;transform:scaleX(0.9252);transform-origin:center center;font-weight:700;">Success</div>
<div class="card" style="left:252.10px;top:310.20px;width:172.50px;height:189.20px;"></div>
<div class="t" style="left:258.60px;top:318.55px;font-size:7.2px;color:#333335;letter-spacing:0.027px;-webkit-text-stroke:0.09px currentColor;">Recent Activity</div>
<div style="position:absolute;left:391.00px;top:317.00px;width:27.30px;height:11.70px;background:#f5f6f9;border-radius:2px;"></div>
<div class="t" style="left:394.90px;top:320.55px;font-size:5.6px;color:#6c7088;transform:scaleX(0.9484);transform-origin:center center;">View All</div>
<div class="t" style="left:258.60px;top:340.55px;font-size:5.4px;color:#555868;transform:scaleX(0.8614);transform-origin:left center;">12 Hrs</div>
<div style="position:absolute;left:285.30px;top:342.80px;width:0.50px;height:32.40px;background:#f1f2f7;border-radius:0px;"></div>
<svg style="position:absolute;left:283.00px;top:340.30px;" width="5" height="5" viewBox="0 0 5 5"><circle cx="2.5" cy="2.5" r="2.3" fill="#5c67f7" fill-opacity="0.15"/><circle cx="2.5" cy="2.5" r="1.2" fill="#5c67f7"/></svg>
<div class="t" style="left:297.30px;top:339.55px;font-size:6.4px;color:#333340;letter-spacing:0.086px;-webkit-text-stroke:0.06px currentColor;">John Doe</div>
<div class="t" style="left:297.30px;top:347.55px;font-size:6.0px;color:#7b809a;letter-spacing:0.120px;">Updated the product description for <span style="color:#5c67f7">Widget</span></div>
<div class="t" style="left:297.30px;top:355.55px;font-size:6.0px;color:#7b809a;transform:scaleX(0.7938);transform-origin:left center;"><span style="color:#5c67f7">X.</span></div>
<div class="t" style="left:258.60px;top:372.55px;font-size:5.4px;color:#555868;letter-spacing:0.138px;">4:32pm</div>
<div style="position:absolute;left:285.30px;top:375.20px;width:0.50px;height:32.40px;background:#f1f2f7;border-radius:0px;"></div>
<svg style="position:absolute;left:283.00px;top:372.70px;" width="5" height="5" viewBox="0 0 5 5"><circle cx="2.5" cy="2.5" r="2.3" fill="#e354d4" fill-opacity="0.15"/><circle cx="2.5" cy="2.5" r="1.2" fill="#e354d4"/></svg>
<div class="t" style="left:297.30px;top:372.55px;font-size:6.4px;color:#333340;letter-spacing:0.109px;-webkit-text-stroke:0.06px currentColor;">Jane Smith</div>
<div class="t" style="left:297.30px;top:380.55px;font-size:6.0px;color:#7b809a;letter-spacing:0.090px;">added a <span style="color:#222">new user</span> with username</div>
<div class="t" style="left:297.30px;top:388.55px;font-size:6.0px;color:#7b809a;letter-spacing:0.271px;"><span style="color:#e354d4">janesmith89</span>.</div>
<div class="t" style="left:258.60px;top:405.55px;font-size:5.4px;color:#555868;transform:scaleX(0.9411);transform-origin:left center;">11:45am</div>
<div style="position:absolute;left:285.30px;top:407.60px;width:0.50px;height:32.40px;background:#f1f2f7;border-radius:0px;"></div>
<svg style="position:absolute;left:283.00px;top:405.10px;" width="5" height="5" viewBox="0 0 5 5"><circle cx="2.5" cy="2.5" r="2.3" fill="#ff5d9f" fill-opacity="0.15"/><circle cx="2.5" cy="2.5" r="1.2" fill="#ff5d9f"/></svg>
<div class="t" style="left:297.30px;top:404.55px;font-size:6.4px;color:#333340;letter-spacing:0.477px;-webkit-text-stroke:0.06px currentColor;">Michael Brown</div>
<div class="t" style="left:297.30px;top:412.55px;font-size:6.0px;color:#7b809a;letter-spacing:0.063px;">Changed the status of order <span style="color:#222;text-decoration:underline">#12345</span> to</div>
<div class="t" style="left:297.30px;top:420.55px;font-size:6.0px;color:#7b809a;letter-spacing:0.045px;"><span style="color:#ff5d9f">Shipped</span>.</div>
<div class="t" style="left:258.60px;top:437.55px;font-size:5.4px;color:#555868;letter-spacing:0.078px;">9:27am</div>
<div style="position:absolute;left:285.30px;top:440.00px;width:0.50px;height:32.40px;background:#f1f2f7;border-radius:0px;"></div>
<svg style="position:absolute;left:283.00px;top:437.50px;" width="5" height="5" viewBox="0 0 5 5"><circle cx="2.5" cy="2.5" r="2.3" fill="#ff8e6f" fill-opacity="0.15"/><circle cx="2.5" cy="2.5" r="1.2" fill="#ff8e6f"/></svg>
<div class="t" style="left:297.30px;top:436.55px;font-size:6.4px;color:#333340;letter-spacing:0.087px;-webkit-text-stroke:0.06px currentColor;">David Wilson</div>
<div class="t" style="left:297.30px;top:444.55px;font-size:6.0px;color:#7b809a;letter-spacing:0.133px;">added <span style="color:#ff8e6f">John Smith</span> to academy group this</div>
<div class="t" style="left:297.30px;top:452.55px;font-size:6.0px;color:#7b809a;letter-spacing:0.268px;">day.</div>
<div class="t" style="left:258.60px;top:469.55px;font-size:5.4px;color:#555868;letter-spacing:0.278px;">8:56pm</div>
<svg style="position:absolute;left:283.00px;top:469.90px;" width="5" height="5" viewBox="0 0 5 5"><circle cx="2.5" cy="2.5" r="2.3" fill="#9e5cf7" fill-opacity="0.15"/><circle cx="2.5" cy="2.5" r="1.2" fill="#9e5cf7"/></svg>
<div class="t" style="left:297.30px;top:469.55px;font-size:6.4px;color:#333340;letter-spacing:0.118px;-webkit-text-stroke:0.06px currentColor;">Robert Jackson</div>
<div class="t" style="left:297.30px;top:477.55px;font-size:6.0px;color:#7b809a;letter-spacing:0.140px;">added a comment to the task <span style="color:#9e5cf7">Update</span></div>
<div class="t" style="left:297.30px;top:485.55px;font-size:6.0px;color:#7b809a;letter-spacing:0.094px;"><span style="color:#9e5cf7">website layout.</span></div>
<div class="card" style="left:435.60px;top:310.20px;width:172.50px;height:189.20px;"></div>
<div class="t" style="left:441.90px;top:318.55px;font-size:7.2px;color:#333335;transform:scaleX(0.9873);transform-origin:left center;-webkit-text-stroke:0.09px currentColor;">Sales Statistics</div>
<div style="position:absolute;left:571.00px;top:317.00px;width:30.20px;height:11.70px;background:#f5f6f9;border-radius:2px;"></div>
<div class="t" style="left:575.40px;top:320.55px;font-size:5.6px;color:#6c7088;transform:scaleX(0.9531);transform-origin:left center;">Sort By</div>
<svg style="position:absolute;left:594.30px;top:322.00px;" width="3.6" height="2.2" viewBox="0 0 3.6 2.2"><path d="M0.3 0.3 L1.8 1.8 L3.3 0.3" fill="none" stroke="#8a8fa5" stroke-width="0.5"/></svg>
<div style="position:absolute;left:441.90px;top:338.80px;width:50.00px;height:30.60px;background:#f6f7f9;border-radius:2px;"></div>
<div class="t" style="left:452.70px;top:347.55px;font-size:5.9px;color:#444654;transform:scaleX(0.9840);transform-origin:left center;">Total Sales</div>
<div class="t" style="left:452.70px;top:354.55px;font-size:6.2px;color:#333340;transform:scaleX(0.9599);transform-origin:left center;font-weight:700;">$3.478B</div>
<div style="position:absolute;left:501.00px;top:338.80px;width:45.80px;height:30.60px;background:#f6f7f9;border-radius:2px;"></div>
<div class="t" style="left:511.60px;top:347.55px;font-size:5.9px;color:#444654;transform:scaleX(0.9959);transform-origin:center center;">This Year</div>
<div class="t" style="left:511.80px;top:354.55px;font-size:6.2px;color:#21ce9e;letter-spacing:0.009px;-webkit-text-stroke:0.06px currentColor;">4,25,349</div>
<div style="position:absolute;left:555.80px;top:338.80px;width:45.60px;height:30.60px;background:#f6f7f9;border-radius:2px;"></div>
<div class="t" style="left:566.10px;top:347.55px;font-size:5.9px;color:#444654;letter-spacing:0.049px;">Last Year</div>
<div class="t" style="left:566.53px;top:354.55px;font-size:6.2px;color:#fb4242;transform:scaleX(0.9116);transform-origin:center center;-webkit-text-stroke:0.06px currentColor;">3,41,622</div>
<div class="t" style="left:449.33px;top:386.55px;font-size:4.6px;color:#6b7394;">320</div>
<div class="t" style="left:449.33px;top:405.55px;font-size:4.6px;color:#6b7394;">240</div>
<div class="t" style="left:449.33px;top:423.55px;font-size:4.6px;color:#6b7394;">160</div>
<div class="t" style="left:451.88px;top:441.55px;font-size:4.6px;color:#6b7394;">80</div>
<div class="t" style="left:454.44px;top:459.55px;font-size:4.6px;color:#6b7394;">0</div>
<svg style="position:absolute;left:0.00px;top:0.00px;pointer-events:none;" width="800" height="600" viewBox="0 0 800 600"><line x1="461" y1="388.2" x2="594" y2="388.2" stroke="#eceef3" stroke-width="0.5" stroke-dasharray="1 1.2"/><line x1="461" y1="406.5" x2="594" y2="406.5" stroke="#eceef3" stroke-width="0.5" stroke-dasharray="1 1.2"/><line x1="461" y1="424.8" x2="594" y2="424.8" stroke="#eceef3" stroke-width="0.5" stroke-dasharray="1 1.2"/><line x1="461" y1="443.0" x2="594" y2="443.0" stroke="#eceef3" stroke-width="0.5" stroke-dasharray="1 1.2"/><line x1="461" y1="461.3" x2="594" y2="461.3" stroke="#eceef3" stroke-width="0.5" stroke-dasharray="1 1.2"/><rect x="466.50" y="415.00" width="5.6" height="17.30" rx="0.8" fill="#ff8e6f"/><rect x="466.50" y="431.30" width="5.6" height="13.70" fill="#e354d4"/><rect x="466.50" y="444.00" width="5.6" height="17.80" rx="0.8" fill="#5c67f7"/><rect x="466.50" y="444.00" width="5.6" height="2" fill="#5c67f7"/><rect x="485.60" y="413.90" width="5.6" height="23.10" rx="0.8" fill="#ff8e6f"/><rect x="485.60" y="436.00" width="5.6" height="6.50" fill="#e354d4"/><rect x="485.60" y="441.50" width="5.6" height="20.30" rx="0.8" fill="#5c67f7"/><rect x="485.60" y="441.50" width="5.6" height="2" fill="#5c67f7"/><rect x="505.20" y="426.60" width="5.6" height="17.40" rx="0.8" fill="#ff8e6f"/><rect x="505.20" y="443.00" width="5.6" height="6.70" fill="#e354d4"/><rect x="505.20" y="448.70" width="5.6" height="13.10" rx="0.8" fill="#5c67f7"/><rect x="505.20" y="448.70" width="5.6" height="2" fill="#5c67f7"/><rect x="524.30" y="393.00" width="5.6" height="12.70" rx="0.8" fill="#ff8e6f"/><rect x="524.30" y="404.70" width="5.6" height="38.90" fill="#e354d4"/><rect x="524.30" y="442.60" width="5.6" height="19.20" rx="0.8" fill="#5c67f7"/><rect x="524.30" y="442.60" width="5.6" height="2" fill="#5c67f7"/><rect x="543.40" y="400.90" width="5.6" height="17.60" rx="0.8" fill="#ff8e6f"/><rect x="543.40" y="417.50" width="5.6" height="18.40" fill="#e354d4"/><rect x="543.40" y="434.90" width="5.6" height="26.90" rx="0.8" fill="#5c67f7"/><rect x="543.40" y="434.90" width="5.6" height="2" fill="#5c67f7"/><rect x="563.00" y="398.00" width="5.6" height="12.60" rx="0.8" fill="#ff8e6f"/><rect x="563.00" y="409.60" width="5.6" height="15.90" fill="#e354d4"/><rect x="563.00" y="424.50" width="5.6" height="37.30" rx="0.8" fill="#5c67f7"/><rect x="563.00" y="424.50" width="5.6" height="2" fill="#5c67f7"/><rect x="582.10" y="403.70" width="5.6" height="16.90" rx="0.8" fill="#ff8e6f"/><rect x="582.10" y="419.60" width="5.6" height="17.60" fill="#e354d4"/><rect x="582.10" y="436.20" width="5.6" height="25.60" rx="0.8" fill="#5c67f7"/><rect x="582.10" y="436.20" width="5.6" height="2" fill="#5c67f7"/></svg>
<div class="t" style="left:464.44px;top:468.55px;font-size:5.0px;color:#6b7394;">Mon</div>
<div class="t" style="left:484.18px;top:468.55px;font-size:5.0px;color:#6b7394;">Tue</div>
<div class="t" style="left:502.90px;top:468.55px;font-size:5.0px;color:#6b7394;">Wed</div>
<div class="t" style="left:522.79px;top:468.55px;font-size:5.0px;color:#6b7394;">Thu</div>
<div class="t" style="left:543.28px;top:468.55px;font-size:5.0px;color:#6b7394;">Fri</div>
<div class="t" style="left:562.05px;top:468.55px;font-size:5.0px;color:#6b7394;">Sat</div>
<div class="t" style="left:580.45px;top:468.55px;font-size:5.0px;color:#6b7394;">Sun</div>
<div style="position:absolute;left:478.40px;top:480.30px;width:3.20px;height:3.20px;background:#5c67f7;border-radius:1.6px;"></div>
<div class="t" style="left:485.00px;top:479.55px;font-size:5.5px;color:#444654;letter-spacing:0.196px;">Total</div>
<div style="position:absolute;left:501.50px;top:480.30px;width:3.20px;height:3.20px;background:#e354d4;border-radius:0.6px;"></div>
<div class="t" style="left:508.10px;top:479.55px;font-size:5.5px;color:#444654;transform:scaleX(0.9594);transform-origin:left center;">This Year</div>
<div style="position:absolute;left:535.70px;top:480.30px;width:3.20px;height:3.20px;background:#ff8e6f;border-radius:0.6px;"></div>
<div class="t" style="left:542.30px;top:479.55px;font-size:5.5px;color:#444654;letter-spacing:0.008px;">Last Year</div>
<div class="card" style="left:619.10px;top:310.20px;width:172.50px;height:189.20px;"></div>
<div class="t" style="left:625.10px;top:318.55px;font-size:7.2px;color:#333335;transform:scaleX(0.9997);transform-origin:left center;-webkit-text-stroke:0.09px currentColor;">Overall Statistics</div>
<div style="position:absolute;left:757.90px;top:317.00px;width:27.00px;height:11.70px;background:#f5f6f9;border-radius:2px;"></div>
<div class="t" style="left:761.65px;top:320.55px;font-size:5.6px;color:#6c7088;transform:scaleX(0.9484);transform-origin:center center;">View All</div>
<div style="position:absolute;left:625.10px;top:335.50px;width:159.30px;height:158.70px;background:#fff;border-radius:2px;border:0.5px solid #eff0f5;box-sizing:border-box;"></div>
<div class="t" style="left:632.30px;top:343.55px;font-size:5.9px;color:#7a7f98;transform:scaleX(0.9997);transform-origin:left center;">Total Expenses</div>
<div class="t" style="left:632.30px;top:351.55px;font-size:8.0px;color:#333335;transform:scaleX(0.8721);transform-origin:left center;-webkit-text-stroke:0.09px currentColor;">$134,032</div>
<div class="t" style="left:664.40px;top:353.55px;font-size:5.0px;color:#21ce9e;">0.45%</div>
<svg style="position:absolute;left:680.08px;top:354.60px;" width="4" height="2.8" viewBox="0 0 4 2.8"><path d="M0.2 2.6 L1.5 1.3 L2.3 2 L3.8 0.4 M2.8 0.3 H3.8 V1.3" fill="none" stroke="#21ce9e" stroke-width="0.5"/></svg>
<div class="t" style="left:745.80px;top:355.55px;font-size:5.7px;color:#444654;transform:scaleX(0.8983);transform-origin:left center;">See more</div>
<svg style="position:absolute;left:773.20px;top:356.20px;" width="4" height="2.6" viewBox="0 0 4 2.6"><path d="M0.2 1.3 H3.6 M2.6 0.3 L3.6 1.3 L2.6 2.3" stroke="#444654" stroke-width="0.5" fill="none"/></svg>
<div style="position:absolute;left:625.10px;top:367.20px;width:159.30px;height:0.50px;background:#eff0f5;border-radius:0px;"></div>
<div class="t" style="left:632.30px;top:375.55px;font-size:5.9px;color:#7a7f98;transform:scaleX(0.9999);transform-origin:left center;">General Leads</div>
<div class="t" style="left:632.30px;top:383.55px;font-size:8.0px;color:#333335;transform:scaleX(0.9114);transform-origin:left center;-webkit-text-stroke:0.09px currentColor;">74,354</div>
<div class="t" style="left:657.60px;top:385.55px;font-size:5.0px;color:#fb4242;">3.84%</div>
<svg style="position:absolute;left:673.28px;top:386.40px;" width="4" height="2.8" viewBox="0 0 4 2.8"><path d="M0.2 0.2 L1.5 1.5 L2.3 0.8 L3.8 2.4 M2.8 2.5 H3.8 V1.5" fill="none" stroke="#fb4242" stroke-width="0.5"/></svg>
<div class="t" style="left:745.80px;top:386.55px;font-size:5.7px;color:#444654;transform:scaleX(0.8983);transform-origin:left center;">See more</div>
<svg style="position:absolute;left:773.20px;top:388.00px;" width="4" height="2.6" viewBox="0 0 4 2.6"><path d="M0.2 1.3 H3.6 M2.6 0.3 L3.6 1.3 L2.6 2.3" stroke="#444654" stroke-width="0.5" fill="none"/></svg>
<div style="position:absolute;left:625.10px;top:399.00px;width:159.30px;height:0.50px;background:#eff0f5;border-radius:0px;"></div>
<div class="t" style="left:632.30px;top:406.55px;font-size:5.9px;color:#7a7f98;letter-spacing:0.059px;">Churn Rate</div>
<div class="t" style="left:632.30px;top:415.55px;font-size:8.0px;color:#333335;transform:scaleX(0.8641);transform-origin:left center;-webkit-text-stroke:0.09px currentColor;">6.02%</div>
<div class="t" style="left:654.90px;top:417.55px;font-size:5.0px;color:#21ce9e;">0.72%</div>
<svg style="position:absolute;left:670.58px;top:418.20px;" width="4" height="2.8" viewBox="0 0 4 2.8"><path d="M0.2 2.6 L1.5 1.3 L2.3 2 L3.8 0.4 M2.8 0.3 H3.8 V1.3" fill="none" stroke="#21ce9e" stroke-width="0.5"/></svg>
<div class="t" style="left:745.80px;top:418.55px;font-size:5.7px;color:#444654;transform:scaleX(0.8983);transform-origin:left center;">See more</div>
<svg style="position:absolute;left:773.20px;top:419.80px;" width="4" height="2.6" viewBox="0 0 4 2.6"><path d="M0.2 1.3 H3.6 M2.6 0.3 L3.6 1.3 L2.6 2.3" stroke="#444654" stroke-width="0.5" fill="none"/></svg>
<div style="position:absolute;left:625.10px;top:430.80px;width:159.30px;height:0.50px;background:#eff0f5;border-radius:0px;"></div>
<div class="t" style="left:632.30px;top:438.55px;font-size:5.9px;color:#7a7f98;transform:scaleX(0.9706);transform-origin:left center;">New Users</div>
<div class="t" style="left:632.30px;top:447.55px;font-size:8.0px;color:#333335;transform:scaleX(0.8991);transform-origin:left center;-webkit-text-stroke:0.09px currentColor;">7,893</div>
<div class="t" style="left:653.30px;top:449.55px;font-size:5.0px;color:#21ce9e;">11.05%</div>
<svg style="position:absolute;left:671.39px;top:450.00px;" width="4" height="2.8" viewBox="0 0 4 2.8"><path d="M0.2 2.6 L1.5 1.3 L2.3 2 L3.8 0.4 M2.8 0.3 H3.8 V1.3" fill="none" stroke="#21ce9e" stroke-width="0.5"/></svg>
<div class="t" style="left:745.80px;top:450.55px;font-size:5.7px;color:#444654;transform:scaleX(0.8983);transform-origin:left center;">See more</div>
<svg style="position:absolute;left:773.20px;top:451.60px;" width="4" height="2.6" viewBox="0 0 4 2.6"><path d="M0.2 1.3 H3.6 M2.6 0.3 L3.6 1.3 L2.6 2.3" stroke="#444654" stroke-width="0.5" fill="none"/></svg>
<div style="position:absolute;left:625.10px;top:462.60px;width:159.30px;height:0.50px;background:#eff0f5;border-radius:0px;"></div>
<div class="t" style="left:632.30px;top:470.55px;font-size:5.9px;color:#7a7f98;transform:scaleX(0.9923);transform-origin:left center;">Returning Users</div>
<div class="t" style="left:632.30px;top:478.55px;font-size:8.0px;color:#333335;transform:scaleX(0.8991);transform-origin:left center;-webkit-text-stroke:0.09px currentColor;">3,258</div>
<div class="t" style="left:653.30px;top:480.55px;font-size:5.0px;color:#21ce9e;">1.69%</div>
<svg style="position:absolute;left:668.98px;top:481.80px;" width="4" height="2.8" viewBox="0 0 4 2.8"><path d="M0.2 2.6 L1.5 1.3 L2.3 2 L3.8 0.4 M2.8 0.3 H3.8 V1.3" fill="none" stroke="#21ce9e" stroke-width="0.5"/></svg>
<div class="t" style="left:745.80px;top:482.55px;font-size:5.7px;color:#444654;transform:scaleX(0.8983);transform-origin:left center;">See more</div>
<svg style="position:absolute;left:773.20px;top:483.40px;" width="4" height="2.6" viewBox="0 0 4 2.6"><path d="M0.2 1.3 H3.6 M2.6 0.3 L3.6 1.3 L2.6 2.3" stroke="#444654" stroke-width="0.5" fill="none"/></svg>
<svg style="position:absolute;left:0.00px;top:0.00px;pointer-events:none;" width="800" height="600" viewBox="0 0 800 600"><path d="M736.00 353.00 C737.50 350.00 739.00 344.00 740.50 344.00 C742.00 344.00 743.50 350.00 745.00 350.00 C746.50 350.00 748.00 342.20 749.50 342.20 C751.00 342.20 752.50 344.70 754.00 344.70 C755.50 344.70 757.00 343.70 758.50 343.70 C760.00 343.70 761.50 349.20 763.00 349.20 C764.73 349.20 766.47 347.51 768.20 346.20 C769.70 345.07 771.20 341.30 772.70 341.30 C774.37 341.30 776.03 346.90 777.70 349.70" fill="none" stroke="#7b6ef3" stroke-width="1.0" stroke-linejoin="round"/><path d="M736.00 384.50 C737.23 382.23 738.47 377.70 739.70 377.70 C741.47 377.70 743.23 379.20 745.00 379.20 C746.50 379.20 748.00 375.20 749.50 375.20 C751.00 375.20 752.50 379.20 754.00 379.20 C755.73 379.20 757.47 375.20 759.20 375.20 C760.70 375.20 762.20 382.70 763.70 382.70 C765.20 382.70 766.70 376.52 768.20 375.20 C769.70 373.88 771.20 372.50 772.70 372.50 C774.37 372.50 776.03 376.97 777.70 379.20" fill="none" stroke="#e354d4" stroke-width="1.0" stroke-linejoin="round"/><path d="M736.00 416.70 C737.73 415.47 739.47 414.73 741.20 413.00 C742.47 411.74 743.73 406.70 745.00 406.70 C746.50 406.70 748.00 413.00 749.50 413.00 C751.00 413.00 752.50 412.19 754.00 411.50 C755.50 410.81 757.00 408.20 758.50 408.20 C760.23 408.20 761.97 416.00 763.70 416.00 C765.20 416.00 766.70 405.20 768.20 405.20 C769.70 405.20 771.20 406.13 772.70 407.00 C774.37 407.96 776.03 410.47 777.70 412.20" fill="none" stroke="#ff5d9f" stroke-width="1.0" stroke-linejoin="round"/><path d="M736.00 448.70 C737.33 447.37 738.67 445.67 740.00 444.70 C741.57 443.56 743.13 442.80 744.70 442.00 C746.37 441.15 748.03 439.70 749.70 439.70 C751.13 439.70 752.57 445.30 754.00 445.30 C755.57 445.30 757.13 442.70 758.70 442.70 C760.23 442.70 761.77 446.40 763.30 446.40 C765.10 446.40 766.90 444.39 768.70 442.70 C770.03 441.45 771.37 436.70 772.70 436.70 C774.23 436.70 775.77 441.57 777.30 444.00" fill="none" stroke="#ff8e6f" stroke-width="1.0" stroke-linejoin="round"/><path d="M736.00 480.70 C737.33 479.37 738.67 477.60 740.00 476.70 C741.77 475.51 743.53 474.00 745.30 474.00 C746.87 474.00 748.43 474.70 750.00 474.70 C751.43 474.70 752.87 468.70 754.30 468.70 C755.87 468.70 757.43 476.00 759.00 476.00 C760.43 476.00 761.87 471.30 763.30 471.30 C765.00 471.30 766.70 477.60 768.40 477.60 C769.83 477.60 771.27 474.40 772.70 474.40 C774.23 474.40 775.77 477.07 777.30 478.40" fill="none" stroke="#9e5cf7" stroke-width="1.0" stroke-linejoin="round"/></svg>
<div class="card" style="left:68.70px;top:511.70px;width:539.40px;height:128.30px;"></div>
<div class="t" style="left:75.50px;top:519.55px;font-size:7.2px;color:#333335;transform:scaleX(0.9654);transform-origin:left center;-webkit-text-stroke:0.09px currentColor;">Recent Orders</div>
<div style="position:absolute;left:574.40px;top:518.50px;width:27.10px;height:10.70px;background:#f5f6f9;border-radius:2px;"></div>
<div class="t" style="left:578.20px;top:521.55px;font-size:5.6px;color:#6c7088;transform:scaleX(0.9484);transform-origin:center center;">View All</div>
<div style="position:absolute;left:78.40px;top:540.30px;width:6.60px;height:6.60px;background:#fff;border-radius:1.2px;border:0.6px solid #e3e5ec;box-sizing:border-box;"></div>
<div class="t" style="left:101.30px;top:539.55px;font-size:6.0px;color:#333340;letter-spacing:0.356px;">Customer</div>
<div class="t" style="left:231.80px;top:539.55px;font-size:6.0px;color:#333340;letter-spacing:0.254px;">Product</div>
<div class="t" style="left:337.10px;top:539.55px;font-size:6.0px;color:#333340;letter-spacing:0.365px;">Quantity</div>
<div class="t" style="left:387.70px;top:539.55px;font-size:6.0px;color:#333340;letter-spacing:0.424px;">Amount</div>
<div class="t" style="left:429.75px;top:539.55px;font-size:6.0px;color:#333340;letter-spacing:0.198px;">Status</div>
<div class="t" style="left:488.90px;top:539.55px;font-size:6.0px;color:#333340;letter-spacing:0.159px;">Date Ordered</div>
<div class="t" style="left:558.00px;top:539.55px;font-size:6.0px;color:#333340;letter-spacing:0.171px;">Actions</div>
<div style="position:absolute;left:68.70px;top:553.20px;width:539.40px;height:0.50px;background:#f1f2f6;border-radius:0px;"></div>
<div style="position:absolute;left:78.40px;top:563.20px;width:6.60px;height:6.60px;background:#5c67f7;border-radius:1.2px;"></div>
<svg style="position:absolute;left:79.80px;top:565.00px;" width="4" height="3.2" viewBox="0 0 4 3.2"><path d="M0.3 1.6 L1.5 2.8 L3.7 0.4" fill="none" stroke="#fff" stroke-width="0.7"/></svg>
<svg style="position:absolute;left:101.30px;top:560.50px;" width="11.6" height="11.8" viewBox="0 0 11.6 11.8"><rect width="11.6" height="11.8" rx="1.5" fill="#f6ab8c"/><path d="M2.2 11.8 C2 6 2.5 2 5.8 2 C9.1 2 9.6 6 9.4 11.8 Z" fill="#4a2e22"/><ellipse cx="5.8" cy="6" rx="2" ry="2.5" fill="#e9b08c"/><path d="M2.5 11.8 C3 10 4.5 9.4 5.8 9.4 C7.1 9.4 8.6 10 9.1 11.8 Z" fill="#c85a3a"/></svg>
<div class="t" style="left:120.00px;top:559.55px;font-size:6.0px;color:#333340;letter-spacing:0.065px;-webkit-text-stroke:0.06px currentColor;">Elena smith</div>
<div class="t" style="left:120.00px;top:569.55px;font-size:4.9px;color:#7079a0;letter-spacing:0.174px;">elenasmith387@gmail.com</div>
<div class="t" style="left:231.80px;top:562.55px;font-size:6.0px;color:#444654;letter-spacing:0.017px;">All-Purpose Cleaner</div>
<div class="t" style="left:349.60px;top:562.55px;font-size:6.0px;color:#444654;">3</div>
<div class="t" style="left:391.30px;top:562.55px;font-size:6.0px;color:#444654;transform:scaleX(0.9724);transform-origin:left center;">$9.99</div>
<div style="position:absolute;left:429.75px;top:562.50px;width:31.00px;height:8.30px;background:rgba(92,103,247,0.12);border-radius:1.5px;"></div>
<div class="t" style="left:432.50px;top:565.55px;font-size:4.9px;color:#5c67f7;letter-spacing:0.044px;">In Progress</div>
<div class="t" style="left:488.90px;top:562.55px;font-size:6.0px;color:#444654;transform:scaleX(0.9521);transform-origin:left center;">03,Sep 2024</div>
<div style="position:absolute;left:558.00px;top:561.00px;width:11.40px;height:11.70px;background:rgba(33,206,158,0.13);border-radius:1.5px;"></div>
<svg style="position:absolute;left:561.20px;top:564.20px;" width="5" height="5" viewBox="0 0 5 5"><path d="M0.6 4.4 L0.9 3.2 L3.4 0.7 L4.3 1.6 L1.8 4.1 Z" fill="#21ce9e"/></svg>
<div style="position:absolute;left:574.00px;top:561.00px;width:11.40px;height:11.70px;background:rgba(251,66,66,0.13);border-radius:1.5px;"></div>
<svg style="position:absolute;left:577.20px;top:563.90px;" width="5" height="5.5" viewBox="0 0 5 5.5"><path d="M0.6 1.2 H4.4 M1.8 1.2 V0.5 H3.2 V1.2 M1.1 1.5 L1.4 5 H3.6 L3.9 1.5" fill="none" stroke="#fb4242" stroke-width="0.6"/></svg>
<div style="position:absolute;left:68.70px;top:579.60px;width:539.40px;height:0.50px;background:#f1f2f6;border-radius:0px;"></div>
<div style="position:absolute;left:78.40px;top:589.60px;width:6.60px;height:6.60px;background:#fff;border-radius:1.2px;border:0.6px solid #e3e5ec;box-sizing:border-box;"></div>
<svg style="position:absolute;left:101.30px;top:586.90px;" width="11.6" height="11.8" viewBox="0 0 11.6 11.8"><rect width="11.6" height="11.8" rx="1.5" fill="#f39088"/><path d="M1.8 11.8 C2.2 9.4 4 8.8 5.8 8.8 C7.6 8.8 9.4 9.4 9.8 11.8 Z" fill="#2c3550"/><path d="M5 8.8 L5.8 11 L6.6 8.8 Z" fill="#fff"/><ellipse cx="5.8" cy="5.8" rx="2.1" ry="2.6" fill="#c98560"/><path d="M3.6 5.2 C3.4 2.8 4.5 2.2 5.8 2.2 C7.2 2.2 8.3 2.8 8 5.2 C7.5 4 6.5 3.8 5.8 3.8 C5 3.8 4 4 3.6 5.2 Z M4 7 C4.5 8.6 7.1 8.6 7.6 7 C7 7.8 4.6 7.8 4 7 Z" fill="#1e1a1a"/></svg>
<div class="t" style="left:120.00px;top:586.55px;font-size:6.0px;color:#333340;letter-spacing:0.048px;-webkit-text-stroke:0.06px currentColor;">Nelson Gold</div>
<div class="t" style="left:120.00px;top:595.55px;font-size:4.9px;color:#7079a0;letter-spacing:0.151px;">noahrussell556@gmail.com</div>
<div class="t" style="left:231.80px;top:589.55px;font-size:6.0px;color:#444654;transform:scaleX(0.9777);transform-origin:left center;">Kitchen Knife Set</div>
<div class="t" style="left:349.60px;top:589.55px;font-size:6.0px;color:#444654;">4</div>
<div class="t" style="left:389.60px;top:589.55px;font-size:6.0px;color:#444654;transform:scaleX(0.9590);transform-origin:left center;">$49.99</div>
<div style="position:absolute;left:429.75px;top:588.90px;width:23.00px;height:8.30px;background:rgba(227,84,212,0.12);border-radius:1.5px;"></div>
<div class="t" style="left:432.26px;top:591.55px;font-size:4.9px;color:#e354d4;transform:scaleX(0.9732);transform-origin:center center;">Pending</div>
<div class="t" style="left:488.90px;top:589.55px;font-size:6.0px;color:#444654;letter-spacing:0.137px;">26,Jul 2024</div>
<div style="position:absolute;left:558.00px;top:587.40px;width:11.40px;height:11.70px;background:rgba(33,206,158,0.13);border-radius:1.5px;"></div>
<svg style="position:absolute;left:561.20px;top:590.60px;" width="5" height="5" viewBox="0 0 5 5"><path d="M0.6 4.4 L0.9 3.2 L3.4 0.7 L4.3 1.6 L1.8 4.1 Z" fill="#21ce9e"/></svg>
<div style="position:absolute;left:574.00px;top:587.40px;width:11.40px;height:11.70px;background:rgba(251,66,66,0.13);border-radius:1.5px;"></div>
<svg style="position:absolute;left:577.20px;top:590.30px;" width="5" height="5.5" viewBox="0 0 5 5.5"><path d="M0.6 1.2 H4.4 M1.8 1.2 V0.5 H3.2 V1.2 M1.1 1.5 L1.4 5 H3.6 L3.9 1.5" fill="none" stroke="#fb4242" stroke-width="0.6"/></svg>
<div class="card" style="left:619.10px;top:511.70px;width:172.50px;height:128.30px;"></div>
<div class="t" style="left:625.00px;top:519.55px;font-size:7.2px;color:#333335;transform:scaleX(0.9690);transform-origin:left center;-webkit-text-stroke:0.09px currentColor;">Sales By Country</div>
<div style="position:absolute;left:757.70px;top:518.80px;width:27.30px;height:10.70px;background:#f5f6f9;border-radius:2px;"></div>
<div class="t" style="left:761.60px;top:521.55px;font-size:5.6px;color:#6c7088;transform:scaleX(0.9484);transform-origin:center center;">View All</div>
<div style="position:absolute;left:625.40px;top:540.10px;width:10.70px;height:11.20px;background:#fff;border-radius:2px;border:0.5px solid #eceef4;box-sizing:border-box;"></div>
<svg style="position:absolute;left:625.40px;top:540.10px;" width="11" height="11" viewBox="0 0 11 11"><rect x="2.4" y="3.2" width="6.2" height="4.8" rx="1" fill="#f4a0a8"/><rect x="2.4" y="3.2" width="3" height="2.4" fill="#6b7ae0"/><path d="M5.4 4 H8.6 M2.4 5.6 H8.6 M2.4 7.2 H8.6" stroke="#fbe0e3" stroke-width="0.5"/></svg>
<div class="t" style="left:643.30px;top:538.55px;font-size:6.0px;color:#333340;letter-spacing:0.082px;">United States</div>
<div class="t" style="left:764.20px;top:541.55px;font-size:6.8px;color:#333340;transform:scaleX(0.8414);transform-origin:right center;">31,672</div>
<div style="position:absolute;left:643.30px;top:548.10px;width:141.70px;height:5.20px;background:#f6f7fa;border-radius:1px;"></div>
<div style="position:absolute;left:645.30px;top:549.80px;width:123.80px;height:2.00px;background:#5c67f7;border-radius:1px;"></div>
<div style="position:absolute;left:625.40px;top:561.30px;width:10.70px;height:11.20px;background:#fff;border-radius:2px;border:0.5px solid #eceef4;box-sizing:border-box;"></div>
<svg style="position:absolute;left:625.40px;top:561.30px;" width="11" height="11" viewBox="0 0 11 11"><rect x="2.6" y="2.6" width="2" height="6" rx="0.8" fill="#3caa5a"/><rect x="4.6" y="2.6" width="2" height="6" fill="#f4f4f4"/><rect x="6.6" y="2.6" width="2" height="6" rx="0.8" fill="#e84a4a"/></svg>
<div class="t" style="left:643.30px;top:560.55px;font-size:6.0px;color:#333340;letter-spacing:0.049px;">Italy</div>
<div class="t" style="left:764.20px;top:562.55px;font-size:6.8px;color:#333340;transform:scaleX(0.8414);transform-origin:right center;">29,557</div>
<div style="position:absolute;left:643.30px;top:569.30px;width:141.70px;height:5.20px;background:#f6f7fa;border-radius:1px;"></div>
<div style="position:absolute;left:645.30px;top:571.00px;width:117.20px;height:2.00px;background:#e354d4;border-radius:1px;"></div>
<div style="position:absolute;left:625.40px;top:582.50px;width:10.70px;height:11.20px;background:#fff;border-radius:2px;border:0.5px solid #eceef4;box-sizing:border-box;"></div>
<svg style="position:absolute;left:625.40px;top:582.50px;" width="11" height="11" viewBox="0 0 11 11"><rect x="2.6" y="2.8" width="6" height="5.6" rx="1" fill="#d8322e"/><rect x="2.6" y="4.2" width="6" height="2.8" fill="#f6c33c"/><rect x="3.6" y="4.6" width="1.3" height="1.8" fill="#c0622a"/></svg>
<div class="t" style="left:643.30px;top:581.55px;font-size:6.0px;color:#333340;letter-spacing:0.039px;">Spain</div>
<div class="t" style="left:764.20px;top:584.55px;font-size:6.8px;color:#333340;transform:scaleX(0.8414);transform-origin:right center;">24,562</div>
<div style="position:absolute;left:643.30px;top:590.50px;width:141.70px;height:5.20px;background:#f6f7fa;border-radius:1px;"></div>
<div style="position:absolute;left:645.30px;top:592.20px;width:110.10px;height:2.00px;background:#ff5d9f;border-radius:1px;"></div>
</body></html>
